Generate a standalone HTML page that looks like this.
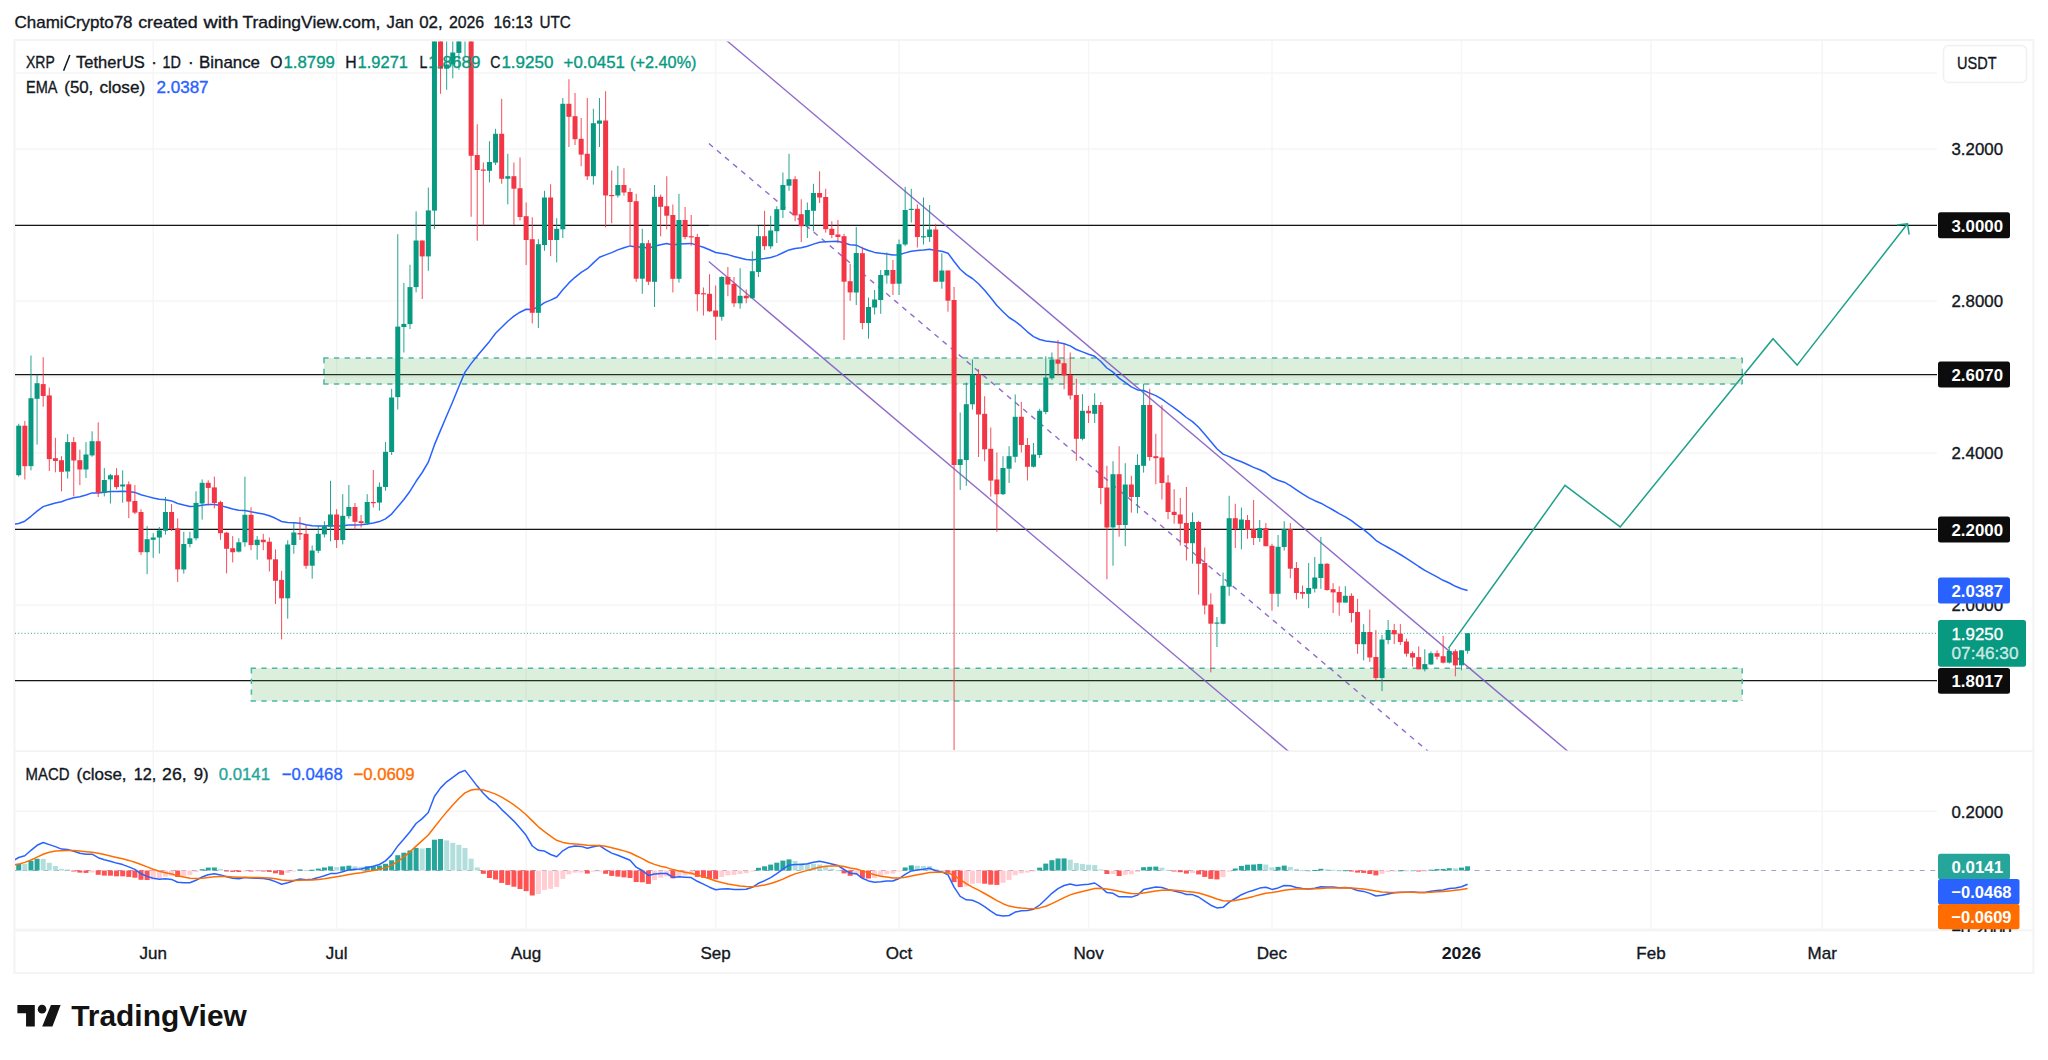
<!DOCTYPE html><html><head><meta charset="utf-8"><style>html,body{margin:0;padding:0;background:#fff;width:2048px;height:1060px;overflow:hidden}</style></head><body><svg width="2048" height="1060" viewBox="0 0 2048 1060" style="position:absolute;left:0;top:0">
<defs><clipPath id="mp"><rect x="15" y="41.6" width="1922" height="709"/></clipPath><clipPath id="ip"><rect x="15" y="752" width="1922" height="178"/></clipPath></defs>
<rect x="14.45" y="40.1" width="2018.95" height="932.9" fill="none" stroke="#f4f4f4" stroke-width="2.1"/>
<line x1="153.22369999999998" y1="41" x2="153.22369999999998" y2="930.5" stroke="#f6f6f7" stroke-width="1.5"/>
<line x1="336.6242" y1="41" x2="336.6242" y2="930.5" stroke="#f6f6f7" stroke-width="1.5"/>
<line x1="526.1380499999999" y1="41" x2="526.1380499999999" y2="930.5" stroke="#f6f6f7" stroke-width="1.5"/>
<line x1="715.6519" y1="41" x2="715.6519" y2="930.5" stroke="#f6f6f7" stroke-width="1.5"/>
<line x1="899.0523999999999" y1="41" x2="899.0523999999999" y2="930.5" stroke="#f6f6f7" stroke-width="1.5"/>
<line x1="1088.5662499999999" y1="41" x2="1088.5662499999999" y2="930.5" stroke="#f6f6f7" stroke-width="1.5"/>
<line x1="1271.96675" y1="41" x2="1271.96675" y2="930.5" stroke="#f6f6f7" stroke-width="1.5"/>
<line x1="1461.4805999999999" y1="41" x2="1461.4805999999999" y2="930.5" stroke="#f6f6f7" stroke-width="1.5"/>
<line x1="1650.99445" y1="41" x2="1650.99445" y2="930.5" stroke="#f6f6f7" stroke-width="1.5"/>
<line x1="1822.16825" y1="41" x2="1822.16825" y2="930.5" stroke="#f6f6f7" stroke-width="1.5"/>
<line x1="15" y1="73" x2="1937" y2="73" stroke="#f6f6f7" stroke-width="1.5"/>
<line x1="15" y1="149" x2="1937" y2="149" stroke="#f6f6f7" stroke-width="1.5"/>
<line x1="15" y1="225" x2="1937" y2="225" stroke="#f6f6f7" stroke-width="1.5"/>
<line x1="15" y1="301" x2="1937" y2="301" stroke="#f6f6f7" stroke-width="1.5"/>
<line x1="15" y1="377" x2="1937" y2="377" stroke="#f6f6f7" stroke-width="1.5"/>
<line x1="15" y1="453" x2="1937" y2="453" stroke="#f6f6f7" stroke-width="1.5"/>
<line x1="15" y1="529" x2="1937" y2="529" stroke="#f6f6f7" stroke-width="1.5"/>
<line x1="15" y1="605" x2="1937" y2="605" stroke="#f6f6f7" stroke-width="1.5"/>
<line x1="15" y1="681" x2="1937" y2="681" stroke="#f6f6f7" stroke-width="1.5"/>
<line x1="15" y1="811.3" x2="1937" y2="811.3" stroke="#f6f6f7" stroke-width="1.5"/>
<line x1="15" y1="929.3" x2="1937" y2="929.3" stroke="#f6f6f7" stroke-width="1.5"/>
<line x1="15" y1="751.2" x2="2033" y2="751.2" stroke="#f3f3f4" stroke-width="1.8"/>
<line x1="15" y1="930.5" x2="2033" y2="930.4" stroke="#f3f3f4" stroke-width="1.8"/>
<g clip-path="url(#mp)">
<line x1="15" y1="225.30" x2="1938" y2="225.30" stroke="#161616" stroke-width="1.25"/>
<line x1="15" y1="374.64" x2="1938" y2="374.64" stroke="#161616" stroke-width="1.25"/>
<line x1="15" y1="529.30" x2="1938" y2="529.30" stroke="#161616" stroke-width="1.25"/>
<line x1="15" y1="680.65" x2="1938" y2="680.65" stroke="#161616" stroke-width="1.25"/>
<line x1="709" y1="225.3" x2="757.4" y2="225.3" stroke="#fff" stroke-width="1.6" opacity="0.22"/>
<rect x="324.0" y="358.05" width="1418.2" height="26.05000000000001" fill="rgba(76,175,80,0.195)"/>
<line x1="323.3" y1="358.05" x2="1742.2" y2="358.05" stroke="#4db7a4" stroke-width="1.5" stroke-dasharray="5.25 5.41"/>
<line x1="323.3" y1="384.1" x2="1742.2" y2="384.1" stroke="#4db7a4" stroke-width="1.5" stroke-dasharray="5.25 5.41"/>
<line x1="324.0" y1="358.05" x2="324.0" y2="384.1" stroke="#4db7a4" stroke-width="1.5" stroke-dasharray="5.25 5.41"/>
<line x1="1742.2" y1="358.05" x2="1742.2" y2="384.1" stroke="#4db7a4" stroke-width="1.5" stroke-dasharray="5.25 5.41"/>
<rect x="251.4" y="668.2" width="1490.8" height="32.69999999999993" fill="rgba(76,175,80,0.195)"/>
<line x1="250.70000000000002" y1="668.2" x2="1742.2" y2="668.2" stroke="#4db7a4" stroke-width="1.5" stroke-dasharray="5.25 5.41"/>
<line x1="250.70000000000002" y1="700.9" x2="1742.2" y2="700.9" stroke="#4db7a4" stroke-width="1.5" stroke-dasharray="5.25 5.41"/>
<line x1="251.4" y1="668.2" x2="251.4" y2="700.9" stroke="#4db7a4" stroke-width="1.5" stroke-dasharray="5.25 5.41"/>
<line x1="1742.2" y1="668.2" x2="1742.2" y2="700.9" stroke="#4db7a4" stroke-width="1.5" stroke-dasharray="5.25 5.41"/>
<line x1="15" y1="633.3" x2="1938" y2="633.3" stroke="#089981" stroke-width="1" stroke-dasharray="1 2.2" opacity="0.85"/>
<line x1="708.75" y1="25.4" x2="1600" y2="778.5" stroke="#8159c4" stroke-width="1.4" opacity="0.88"/>
<line x1="708.75" y1="261.5" x2="1600" y2="1014.6" stroke="#8159c4" stroke-width="1.4" opacity="0.88"/>
<line x1="708.9" y1="143.5" x2="1600" y2="896.5" stroke="#8159c4" stroke-width="1.4" opacity="0.88" stroke-dasharray="5.3 5.25"/>
<polyline points="14,524.1 18.7,523.5 24.8,521.2 31.0,516.3 37.1,511.1 43.2,506.6 49.3,504.7 55.4,503.0 61.5,501.7 67.6,499.4 73.8,497.8 79.9,496.7 86.0,495.0 92.1,492.9 98.2,492.9 104.3,492.3 110.4,491.6 116.5,491.4 122.7,491.2 128.8,491.5 134.9,492.4 141.0,494.7 147.1,496.4 153.2,498.0 159.3,499.3 165.5,499.7 171.6,500.9 177.7,503.5 183.8,505.1 189.9,506.4 196.0,506.2 202.1,505.3 208.2,504.6 214.4,504.5 220.5,505.6 226.6,507.3 232.7,509.0 238.8,510.3 244.9,510.5 251.0,511.8 257.2,512.9 263.3,514.0 269.4,515.8 275.5,518.3 281.6,521.5 287.7,522.4 293.8,522.7 299.9,523.2 306.1,524.8 312.2,525.8 318.3,526.1 324.4,526.1 330.5,525.6 336.6,526.2 342.7,525.8 348.9,525.0 355.0,524.9 361.1,524.8 367.2,523.9 373.3,523.0 379.4,521.6 385.5,518.9 391.6,514.1 397.8,506.7 403.9,499.5 410.0,491.2 416.1,481.3 422.2,472.5 428.3,462.2 434.4,444.9 440.6,430.1 446.7,415.8 452.8,401.5 458.9,386.5 465.0,372.1 471.1,363.6 477.2,356.0 483.3,348.8 489.5,341.4 495.6,333.3 501.7,327.2 507.8,321.3 513.9,316.1 520.0,312.2 526.1,309.3 532.3,309.4 538.4,306.9 544.5,302.6 550.6,300.1 556.7,297.3 562.8,289.7 568.9,282.9 575.0,277.3 581.2,272.4 587.3,268.7 593.4,262.9 599.5,257.3 605.6,254.9 611.7,252.6 617.8,249.9 624.0,247.7 630.1,245.9 636.2,247.1 642.3,247.0 648.4,248.3 654.5,246.3 660.6,244.7 666.7,243.6 672.9,245.0 679.0,244.0 685.1,243.7 691.2,243.4 697.3,245.4 703.4,247.3 709.5,249.8 715.7,252.5 721.8,253.4 727.9,254.6 734.0,256.5 740.1,258.1 746.2,259.6 752.3,260.1 758.4,259.1 764.6,258.6 770.7,257.5 776.8,255.6 782.9,252.8 789.0,249.9 795.1,248.6 801.2,247.7 807.4,246.2 813.5,244.1 819.6,242.3 825.7,241.8 831.8,241.5 837.9,241.3 844.0,242.9 850.1,244.8 856.3,245.2 862.4,248.2 868.5,250.5 874.6,252.4 880.7,253.3 886.8,254.0 892.9,255.1 899.1,254.7 905.2,252.9 911.3,251.2 917.4,250.6 923.5,250.1 929.6,249.3 935.7,250.5 941.8,251.3 948.0,253.2 954.1,261.5 960.2,269.3 966.3,274.6 972.4,278.5 978.5,283.8 984.6,290.3 990.8,297.8 996.9,305.5 1003.0,311.8 1009.1,317.5 1015.2,321.4 1021.3,326.2 1027.4,331.8 1033.5,336.6 1039.7,339.5 1045.8,341.0 1051.9,341.7 1058.0,342.6 1064.1,343.8 1070.2,345.9 1076.3,349.5 1082.5,351.9 1088.6,354.3 1094.7,356.3 1100.8,361.5 1106.9,368.0 1113.0,372.1 1119.1,378.1 1125.2,382.3 1131.4,386.8 1137.5,389.9 1143.6,390.5 1149.7,393.1 1155.8,395.6 1161.9,399.1 1168.0,403.5 1174.2,407.9 1180.3,412.4 1186.4,417.5 1192.5,421.6 1198.6,427.2 1204.7,434.2 1210.8,441.6 1216.9,448.7 1223.1,454.1 1229.2,456.6 1235.3,459.5 1241.4,461.8 1247.5,464.5 1253.6,467.4 1259.7,469.8 1265.9,472.8 1272.0,477.5 1278.1,480.2 1284.2,482.2 1290.3,485.6 1296.4,489.8 1302.5,493.9 1308.6,497.6 1314.8,500.7 1320.9,503.2 1327.0,506.6 1333.1,510.0 1339.2,513.6 1345.3,516.8 1351.4,520.6 1357.6,525.4 1363.7,529.6 1369.8,534.6 1375.9,540.3 1382.0,544.2 1388.1,547.5 1394.2,550.9 1400.3,554.5 1406.5,558.4 1412.6,562.3 1418.7,566.5 1424.8,570.4 1430.9,573.6 1437.0,576.9 1443.1,580.3 1449.3,583.0 1455.4,586.3 1461.5,588.8 1467.6,590.5" fill="none" stroke="#2962ff" stroke-width="1.5" stroke-linejoin="round"/>
<rect x="18.23" y="423.7" width="1" height="52.9" fill="#089981" opacity="0.88"/>
<rect x="16.23" y="425.7" width="5" height="49.5" fill="#089981"/>
<rect x="24.34" y="420.9" width="1" height="58.6" fill="#f23645" opacity="0.88"/>
<rect x="22.34" y="425.7" width="5" height="40.5" fill="#f23645"/>
<rect x="30.46" y="355.5" width="1" height="114.9" fill="#089981" opacity="0.88"/>
<rect x="28.46" y="398.2" width="5" height="67.9" fill="#089981"/>
<rect x="36.57" y="374.7" width="1" height="69.9" fill="#089981" opacity="0.88"/>
<rect x="34.57" y="383.2" width="5" height="15.6" fill="#089981"/>
<rect x="42.68" y="357.2" width="1" height="49.5" fill="#f23645" opacity="0.88"/>
<rect x="40.68" y="384.1" width="5" height="11.9" fill="#f23645"/>
<rect x="48.80" y="387.5" width="1" height="83.5" fill="#f23645" opacity="0.88"/>
<rect x="46.8" y="395.4" width="5" height="63.7" fill="#f23645"/>
<rect x="54.91" y="437.8" width="1" height="34.5" fill="#f23645" opacity="0.88"/>
<rect x="52.91" y="458.2" width="5" height="2.8" fill="#f23645"/>
<rect x="61.02" y="456.2" width="1" height="35.1" fill="#f23645" opacity="0.88"/>
<rect x="59.02" y="460.2" width="5" height="11.6" fill="#f23645"/>
<rect x="67.14" y="434.2" width="1" height="44.4" fill="#089981" opacity="0.88"/>
<rect x="65.14" y="442.1" width="5" height="29.4" fill="#089981"/>
<rect x="73.25" y="437.0" width="1" height="59.4" fill="#f23645" opacity="0.88"/>
<rect x="71.25" y="442.1" width="5" height="18.4" fill="#f23645"/>
<rect x="79.36" y="449.7" width="1" height="35.4" fill="#f23645" opacity="0.88"/>
<rect x="77.36" y="460.2" width="5" height="9.3" fill="#f23645"/>
<rect x="85.48" y="442.1" width="1" height="35.9" fill="#089981" opacity="0.88"/>
<rect x="83.48" y="454.5" width="5" height="15.0" fill="#089981"/>
<rect x="91.59" y="431.3" width="1" height="25.5" fill="#089981" opacity="0.88"/>
<rect x="89.59" y="441.2" width="5" height="14.2" fill="#089981"/>
<rect x="97.70" y="422.3" width="1" height="74.7" fill="#f23645" opacity="0.88"/>
<rect x="95.7" y="441.2" width="5" height="51.5" fill="#f23645"/>
<rect x="103.82" y="468.1" width="1" height="28.3" fill="#089981" opacity="0.88"/>
<rect x="101.82" y="480.0" width="5" height="12.7" fill="#089981"/>
<rect x="109.93" y="473.8" width="1" height="29.7" fill="#089981" opacity="0.88"/>
<rect x="107.93" y="475.2" width="5" height="4.2" fill="#089981"/>
<rect x="116.04" y="468.1" width="1" height="21.2" fill="#f23645" opacity="0.88"/>
<rect x="114.04" y="475.2" width="5" height="11.9" fill="#f23645"/>
<rect x="122.16" y="470.4" width="1" height="32.3" fill="#089981" opacity="0.88"/>
<rect x="120.16" y="484.5" width="5" height="2.0" fill="#089981"/>
<rect x="128.27" y="481.4" width="1" height="36.8" fill="#f23645" opacity="0.88"/>
<rect x="126.27" y="484.3" width="5" height="17.3" fill="#f23645"/>
<rect x="134.38" y="485.1" width="1" height="28.9" fill="#f23645" opacity="0.88"/>
<rect x="132.38" y="501.0" width="5" height="11.6" fill="#f23645"/>
<rect x="140.50" y="509.2" width="1" height="45.9" fill="#f23645" opacity="0.88"/>
<rect x="138.5" y="512.0" width="5" height="40.2" fill="#f23645"/>
<rect x="146.61" y="526.1" width="1" height="48.1" fill="#089981" opacity="0.88"/>
<rect x="144.61" y="539.2" width="5" height="13.0" fill="#089981"/>
<rect x="152.72" y="533.2" width="1" height="24.6" fill="#089981" opacity="0.88"/>
<rect x="150.72" y="537.5" width="5" height="2.3" fill="#089981"/>
<rect x="158.84" y="527.0" width="1" height="26.6" fill="#089981" opacity="0.88"/>
<rect x="156.84" y="530.4" width="5" height="7.1" fill="#089981"/>
<rect x="164.95" y="497.0" width="1" height="37.6" fill="#089981" opacity="0.88"/>
<rect x="162.95" y="512.0" width="5" height="18.7" fill="#089981"/>
<rect x="171.06" y="504.1" width="1" height="26.9" fill="#f23645" opacity="0.88"/>
<rect x="169.06" y="512.0" width="5" height="17.0" fill="#f23645"/>
<rect x="177.18" y="518.5" width="1" height="63.4" fill="#f23645" opacity="0.88"/>
<rect x="175.18" y="528.4" width="5" height="41.0" fill="#f23645"/>
<rect x="183.29" y="531.8" width="1" height="41.9" fill="#089981" opacity="0.88"/>
<rect x="181.29" y="544.0" width="5" height="25.5" fill="#089981"/>
<rect x="189.40" y="531.8" width="1" height="15.6" fill="#089981" opacity="0.88"/>
<rect x="187.4" y="538.3" width="5" height="5.7" fill="#089981"/>
<rect x="195.52" y="491.3" width="1" height="49.0" fill="#089981" opacity="0.88"/>
<rect x="193.52" y="502.9" width="5" height="35.4" fill="#089981"/>
<rect x="201.63" y="479.4" width="1" height="40.2" fill="#089981" opacity="0.88"/>
<rect x="199.63" y="482.8" width="5" height="20.7" fill="#089981"/>
<rect x="207.74" y="480.3" width="1" height="25.2" fill="#f23645" opacity="0.88"/>
<rect x="205.74" y="482.8" width="5" height="5.1" fill="#f23645"/>
<rect x="213.86" y="476.6" width="1" height="31.7" fill="#f23645" opacity="0.88"/>
<rect x="211.86" y="487.4" width="5" height="15.6" fill="#f23645"/>
<rect x="219.97" y="500.7" width="1" height="39.1" fill="#f23645" opacity="0.88"/>
<rect x="217.97" y="502.1" width="5" height="31.1" fill="#f23645"/>
<rect x="226.08" y="531.8" width="1" height="41.6" fill="#f23645" opacity="0.88"/>
<rect x="224.08" y="532.7" width="5" height="16.1" fill="#f23645"/>
<rect x="232.20" y="536.1" width="1" height="26.3" fill="#f23645" opacity="0.88"/>
<rect x="230.2" y="548.2" width="5" height="4.0" fill="#f23645"/>
<rect x="238.31" y="538.3" width="1" height="14.2" fill="#089981" opacity="0.88"/>
<rect x="236.31" y="542.3" width="5" height="9.3" fill="#089981"/>
<rect x="244.42" y="476.6" width="1" height="70.2" fill="#089981" opacity="0.88"/>
<rect x="242.42" y="514.8" width="5" height="27.5" fill="#089981"/>
<rect x="250.54" y="507.2" width="1" height="43.0" fill="#f23645" opacity="0.88"/>
<rect x="248.54" y="514.8" width="5" height="30.3" fill="#f23645"/>
<rect x="256.65" y="536.1" width="1" height="23.5" fill="#089981" opacity="0.88"/>
<rect x="254.65" y="539.7" width="5" height="5.4" fill="#089981"/>
<rect x="262.76" y="533.8" width="1" height="16.4" fill="#f23645" opacity="0.88"/>
<rect x="260.76" y="539.7" width="5" height="2.5" fill="#f23645"/>
<rect x="268.88" y="537.5" width="1" height="34.0" fill="#f23645" opacity="0.88"/>
<rect x="266.88" y="541.7" width="5" height="17.8" fill="#f23645"/>
<rect x="274.99" y="549.4" width="1" height="54.6" fill="#f23645" opacity="0.88"/>
<rect x="272.99" y="559.3" width="5" height="21.5" fill="#f23645"/>
<rect x="281.10" y="570.9" width="1" height="68.5" fill="#f23645" opacity="0.88"/>
<rect x="279.1" y="579.9" width="5" height="18.4" fill="#f23645"/>
<rect x="287.22" y="540.3" width="1" height="78.4" fill="#089981" opacity="0.88"/>
<rect x="285.22" y="544.5" width="5" height="53.8" fill="#089981"/>
<rect x="293.33" y="522.5" width="1" height="31.2" fill="#089981" opacity="0.88"/>
<rect x="291.33" y="532.5" width="5" height="12.5" fill="#089981"/>
<rect x="299.44" y="517.0" width="1" height="23.0" fill="#f23645" opacity="0.88"/>
<rect x="297.44" y="533.0" width="5" height="1.5" fill="#f23645"/>
<rect x="305.56" y="524.5" width="1" height="44.2" fill="#f23645" opacity="0.88"/>
<rect x="303.56" y="533.8" width="5" height="32.0" fill="#f23645"/>
<rect x="311.67" y="545.5" width="1" height="33.2" fill="#089981" opacity="0.88"/>
<rect x="309.67" y="550.5" width="5" height="15.2" fill="#089981"/>
<rect x="317.78" y="526.2" width="1" height="26.8" fill="#089981" opacity="0.88"/>
<rect x="315.78" y="533.8" width="5" height="17.0" fill="#089981"/>
<rect x="323.90" y="521.2" width="1" height="16.2" fill="#089981" opacity="0.88"/>
<rect x="321.9" y="526.2" width="5" height="8.2" fill="#089981"/>
<rect x="330.01" y="480.8" width="1" height="60.5" fill="#089981" opacity="0.88"/>
<rect x="328.01" y="514.5" width="5" height="12.2" fill="#089981"/>
<rect x="336.12" y="509.2" width="1" height="38.8" fill="#f23645" opacity="0.88"/>
<rect x="334.12" y="514.5" width="5" height="25.5" fill="#f23645"/>
<rect x="342.24" y="494.2" width="1" height="50.2" fill="#089981" opacity="0.88"/>
<rect x="340.24" y="515.8" width="5" height="24.2" fill="#089981"/>
<rect x="348.35" y="485.0" width="1" height="33.8" fill="#089981" opacity="0.88"/>
<rect x="346.35" y="507.0" width="5" height="9.2" fill="#089981"/>
<rect x="354.46" y="503.0" width="1" height="26.5" fill="#f23645" opacity="0.88"/>
<rect x="352.46" y="507.0" width="5" height="14.8" fill="#f23645"/>
<rect x="360.58" y="515.0" width="1" height="12.5" fill="#f23645" opacity="0.88"/>
<rect x="358.58" y="521.2" width="5" height="1.8" fill="#f23645"/>
<rect x="366.69" y="494.2" width="1" height="30.8" fill="#089981" opacity="0.88"/>
<rect x="364.69" y="502.0" width="5" height="21.2" fill="#089981"/>
<rect x="372.80" y="470.0" width="1" height="37.5" fill="#f23645" opacity="0.88"/>
<rect x="370.8" y="502.0" width="5" height="1.2" fill="#f23645"/>
<rect x="378.92" y="482.5" width="1" height="28.2" fill="#089981" opacity="0.88"/>
<rect x="376.92" y="486.8" width="5" height="15.8" fill="#089981"/>
<rect x="385.03" y="442.0" width="1" height="48.8" fill="#089981" opacity="0.88"/>
<rect x="383.03" y="451.8" width="5" height="35.2" fill="#089981"/>
<rect x="391.14" y="388.8" width="1" height="66.2" fill="#089981" opacity="0.88"/>
<rect x="389.14" y="397.5" width="5" height="54.5" fill="#089981"/>
<rect x="397.26" y="234.2" width="1" height="175.3" fill="#089981" opacity="0.88"/>
<rect x="395.26" y="326.6" width="5" height="70.5" fill="#089981"/>
<rect x="403.37" y="283.0" width="1" height="69.5" fill="#089981" opacity="0.88"/>
<rect x="401.37" y="323.9" width="5" height="3.1" fill="#089981"/>
<rect x="409.48" y="264.7" width="1" height="64.3" fill="#089981" opacity="0.88"/>
<rect x="407.48" y="287.1" width="5" height="37.0" fill="#089981"/>
<rect x="415.60" y="211.4" width="1" height="80.9" fill="#089981" opacity="0.88"/>
<rect x="413.6" y="240.5" width="5" height="46.6" fill="#089981"/>
<rect x="421.71" y="240.5" width="1" height="58.5" fill="#f23645" opacity="0.88"/>
<rect x="419.71" y="240.5" width="5" height="15.9" fill="#f23645"/>
<rect x="427.82" y="187.5" width="1" height="83.3" fill="#089981" opacity="0.88"/>
<rect x="425.82" y="210.4" width="5" height="46.0" fill="#089981"/>
<rect x="433.94" y="20.0" width="1" height="209.0" fill="#089981" opacity="0.88"/>
<rect x="431.94" y="20.0" width="5" height="190.6" fill="#089981"/>
<rect x="440.05" y="20.0" width="1" height="73.8" fill="#f23645" opacity="0.88"/>
<rect x="438.05" y="20.0" width="5" height="48.7" fill="#f23645"/>
<rect x="446.16" y="20.0" width="1" height="69.8" fill="#089981" opacity="0.88"/>
<rect x="444.16" y="64.5" width="5" height="4.2" fill="#089981"/>
<rect x="452.28" y="20.0" width="1" height="58.3" fill="#089981" opacity="0.88"/>
<rect x="450.28" y="52.5" width="5" height="11.9" fill="#089981"/>
<rect x="458.39" y="20.0" width="1" height="49.7" fill="#089981" opacity="0.88"/>
<rect x="456.39" y="20.0" width="5" height="32.9" fill="#089981"/>
<rect x="464.50" y="20.0" width="1" height="36.0" fill="#089981" opacity="0.88"/>
<rect x="462.5" y="20.0" width="5" height="10.0" fill="#089981"/>
<rect x="470.62" y="20.0" width="1" height="196.8" fill="#f23645" opacity="0.88"/>
<rect x="468.62" y="20.0" width="5" height="135.8" fill="#f23645"/>
<rect x="476.73" y="124.2" width="1" height="116.5" fill="#f23645" opacity="0.88"/>
<rect x="474.73" y="155.0" width="5" height="15.0" fill="#f23645"/>
<rect x="482.84" y="162.5" width="1" height="63.0" fill="#f23645" opacity="0.88"/>
<rect x="480.84" y="169.5" width="5" height="1.2" fill="#f23645"/>
<rect x="488.96" y="141.2" width="1" height="41.2" fill="#089981" opacity="0.88"/>
<rect x="486.96" y="162.0" width="5" height="8.8" fill="#089981"/>
<rect x="495.07" y="128.8" width="1" height="36.2" fill="#089981" opacity="0.88"/>
<rect x="493.07" y="133.8" width="5" height="28.8" fill="#089981"/>
<rect x="501.18" y="98.8" width="1" height="85.0" fill="#f23645" opacity="0.88"/>
<rect x="499.18" y="133.8" width="5" height="45.0" fill="#f23645"/>
<rect x="507.30" y="153.8" width="1" height="50.5" fill="#089981" opacity="0.88"/>
<rect x="505.3" y="176.2" width="5" height="2.5" fill="#089981"/>
<rect x="513.41" y="162.5" width="1" height="62.5" fill="#f23645" opacity="0.88"/>
<rect x="511.41" y="176.2" width="5" height="12.5" fill="#f23645"/>
<rect x="519.52" y="157.5" width="1" height="63.0" fill="#f23645" opacity="0.88"/>
<rect x="517.52" y="188.2" width="5" height="28.8" fill="#f23645"/>
<rect x="525.64" y="202.5" width="1" height="62.5" fill="#f23645" opacity="0.88"/>
<rect x="523.64" y="216.2" width="5" height="23.8" fill="#f23645"/>
<rect x="531.75" y="217.2" width="1" height="106.2" fill="#f23645" opacity="0.88"/>
<rect x="529.75" y="239.2" width="5" height="73.6" fill="#f23645"/>
<rect x="537.86" y="239.2" width="1" height="88.8" fill="#089981" opacity="0.88"/>
<rect x="535.86" y="244.2" width="5" height="68.6" fill="#089981"/>
<rect x="543.98" y="190.8" width="1" height="60.0" fill="#089981" opacity="0.88"/>
<rect x="541.98" y="197.5" width="5" height="47.5" fill="#089981"/>
<rect x="550.09" y="184.2" width="1" height="72.0" fill="#f23645" opacity="0.88"/>
<rect x="548.09" y="197.5" width="5" height="42.5" fill="#f23645"/>
<rect x="556.20" y="218.2" width="1" height="44.2" fill="#089981" opacity="0.88"/>
<rect x="554.2" y="228.8" width="5" height="11.2" fill="#089981"/>
<rect x="562.32" y="98.0" width="1" height="140.0" fill="#089981" opacity="0.88"/>
<rect x="560.32" y="103.8" width="5" height="125.5" fill="#089981"/>
<rect x="568.43" y="79.2" width="1" height="67.8" fill="#f23645" opacity="0.88"/>
<rect x="566.43" y="103.8" width="5" height="13.0" fill="#f23645"/>
<rect x="574.54" y="93.0" width="1" height="52.0" fill="#f23645" opacity="0.88"/>
<rect x="572.54" y="116.2" width="5" height="23.0" fill="#f23645"/>
<rect x="580.66" y="118.0" width="1" height="48.2" fill="#f23645" opacity="0.88"/>
<rect x="578.66" y="138.8" width="5" height="15.8" fill="#f23645"/>
<rect x="586.77" y="98.0" width="1" height="82.0" fill="#f23645" opacity="0.88"/>
<rect x="584.77" y="153.8" width="5" height="22.5" fill="#f23645"/>
<rect x="592.88" y="108.8" width="1" height="75.8" fill="#089981" opacity="0.88"/>
<rect x="590.88" y="123.2" width="5" height="53.0" fill="#089981"/>
<rect x="599.00" y="98.0" width="1" height="49.0" fill="#089981" opacity="0.88"/>
<rect x="597.0" y="120.5" width="5" height="3.2" fill="#089981"/>
<rect x="605.11" y="91.2" width="1" height="136.2" fill="#f23645" opacity="0.88"/>
<rect x="603.11" y="120.5" width="5" height="75.0" fill="#f23645"/>
<rect x="611.22" y="170.5" width="1" height="52.8" fill="#f23645" opacity="0.88"/>
<rect x="609.22" y="195.0" width="5" height="1.2" fill="#f23645"/>
<rect x="617.34" y="165.8" width="1" height="31.8" fill="#089981" opacity="0.88"/>
<rect x="615.34" y="185.0" width="5" height="10.5" fill="#089981"/>
<rect x="623.45" y="168.2" width="1" height="27.5" fill="#f23645" opacity="0.88"/>
<rect x="621.45" y="185.0" width="5" height="7.5" fill="#f23645"/>
<rect x="629.56" y="188.0" width="1" height="57.0" fill="#f23645" opacity="0.88"/>
<rect x="627.56" y="192.0" width="5" height="10.0" fill="#f23645"/>
<rect x="635.68" y="193.8" width="1" height="88.0" fill="#f23645" opacity="0.88"/>
<rect x="633.68" y="201.2" width="5" height="77.5" fill="#f23645"/>
<rect x="641.79" y="228.8" width="1" height="65.0" fill="#089981" opacity="0.88"/>
<rect x="639.79" y="243.2" width="5" height="35.5" fill="#089981"/>
<rect x="647.91" y="240.0" width="1" height="45.0" fill="#f23645" opacity="0.88"/>
<rect x="645.91" y="243.2" width="5" height="38.5" fill="#f23645"/>
<rect x="654.02" y="185.0" width="1" height="122.0" fill="#089981" opacity="0.88"/>
<rect x="652.02" y="196.8" width="5" height="85.0" fill="#089981"/>
<rect x="660.13" y="194.5" width="1" height="41.8" fill="#f23645" opacity="0.88"/>
<rect x="658.13" y="196.8" width="5" height="10.0" fill="#f23645"/>
<rect x="666.25" y="176.2" width="1" height="53.2" fill="#f23645" opacity="0.88"/>
<rect x="664.25" y="206.2" width="5" height="9.5" fill="#f23645"/>
<rect x="672.36" y="204.5" width="1" height="88.0" fill="#f23645" opacity="0.88"/>
<rect x="670.36" y="215.0" width="5" height="63.8" fill="#f23645"/>
<rect x="678.47" y="193.8" width="1" height="88.8" fill="#089981" opacity="0.88"/>
<rect x="676.47" y="220.0" width="5" height="58.8" fill="#089981"/>
<rect x="684.59" y="207.0" width="1" height="32.2" fill="#f23645" opacity="0.88"/>
<rect x="682.59" y="220.0" width="5" height="17.0" fill="#f23645"/>
<rect x="690.70" y="215.0" width="1" height="30.8" fill="#f23645" opacity="0.88"/>
<rect x="688.7" y="236.2" width="5" height="1.2" fill="#f23645"/>
<rect x="696.81" y="233.8" width="1" height="77.5" fill="#f23645" opacity="0.88"/>
<rect x="694.81" y="237.0" width="5" height="57.2" fill="#f23645"/>
<rect x="702.93" y="287.5" width="1" height="28.0" fill="#f23645" opacity="0.88"/>
<rect x="700.93" y="293.2" width="5" height="1.2" fill="#f23645"/>
<rect x="709.04" y="274.2" width="1" height="37.8" fill="#f23645" opacity="0.88"/>
<rect x="707.04" y="293.8" width="5" height="17.5" fill="#f23645"/>
<rect x="715.15" y="285.5" width="1" height="54.5" fill="#f23645" opacity="0.88"/>
<rect x="713.15" y="310.5" width="5" height="6.2" fill="#f23645"/>
<rect x="721.27" y="276.2" width="1" height="44.5" fill="#089981" opacity="0.88"/>
<rect x="719.27" y="277.0" width="5" height="39.8" fill="#089981"/>
<rect x="727.38" y="267.0" width="1" height="29.2" fill="#f23645" opacity="0.88"/>
<rect x="725.38" y="277.0" width="5" height="7.5" fill="#f23645"/>
<rect x="733.49" y="277.0" width="1" height="30.0" fill="#f23645" opacity="0.88"/>
<rect x="731.49" y="283.8" width="5" height="19.5" fill="#f23645"/>
<rect x="739.61" y="268.2" width="1" height="40.5" fill="#089981" opacity="0.88"/>
<rect x="737.61" y="295.8" width="5" height="7.5" fill="#089981"/>
<rect x="745.72" y="289.5" width="1" height="13.8" fill="#f23645" opacity="0.88"/>
<rect x="743.72" y="295.8" width="5" height="2.5" fill="#f23645"/>
<rect x="751.83" y="251.2" width="1" height="47.5" fill="#089981" opacity="0.88"/>
<rect x="749.83" y="271.2" width="5" height="27.0" fill="#089981"/>
<rect x="757.95" y="225.8" width="1" height="51.2" fill="#089981" opacity="0.88"/>
<rect x="755.95" y="236.2" width="5" height="35.8" fill="#089981"/>
<rect x="764.06" y="210.8" width="1" height="39.2" fill="#f23645" opacity="0.88"/>
<rect x="762.06" y="236.2" width="5" height="10.0" fill="#f23645"/>
<rect x="770.17" y="215.8" width="1" height="33.0" fill="#089981" opacity="0.88"/>
<rect x="768.17" y="230.5" width="5" height="15.8" fill="#089981"/>
<rect x="776.29" y="206.2" width="1" height="36.8" fill="#089981" opacity="0.88"/>
<rect x="774.29" y="209.2" width="5" height="22.0" fill="#089981"/>
<rect x="782.40" y="172.5" width="1" height="45.5" fill="#089981" opacity="0.88"/>
<rect x="780.4" y="185.0" width="5" height="25.0" fill="#089981"/>
<rect x="788.51" y="153.8" width="1" height="37.0" fill="#089981" opacity="0.88"/>
<rect x="786.51" y="179.2" width="5" height="6.5" fill="#089981"/>
<rect x="794.63" y="176.2" width="1" height="45.0" fill="#f23645" opacity="0.88"/>
<rect x="792.63" y="179.2" width="5" height="36.2" fill="#f23645"/>
<rect x="800.74" y="199.2" width="1" height="42.8" fill="#f23645" opacity="0.88"/>
<rect x="798.74" y="214.2" width="5" height="12.0" fill="#f23645"/>
<rect x="806.85" y="202.5" width="1" height="35.5" fill="#089981" opacity="0.88"/>
<rect x="804.85" y="210.0" width="5" height="16.2" fill="#089981"/>
<rect x="812.97" y="183.8" width="1" height="47.5" fill="#089981" opacity="0.88"/>
<rect x="810.97" y="193.0" width="5" height="17.8" fill="#089981"/>
<rect x="819.08" y="171.2" width="1" height="31.8" fill="#f23645" opacity="0.88"/>
<rect x="817.08" y="193.0" width="5" height="4.5" fill="#f23645"/>
<rect x="825.19" y="188.8" width="1" height="43.8" fill="#f23645" opacity="0.88"/>
<rect x="823.19" y="197.0" width="5" height="32.2" fill="#f23645"/>
<rect x="831.31" y="221.2" width="1" height="17.0" fill="#f23645" opacity="0.88"/>
<rect x="829.31" y="228.8" width="5" height="6.2" fill="#f23645"/>
<rect x="837.42" y="220.0" width="1" height="23.2" fill="#f23645" opacity="0.88"/>
<rect x="835.42" y="234.5" width="5" height="2.5" fill="#f23645"/>
<rect x="843.53" y="233.8" width="1" height="106.2" fill="#f23645" opacity="0.88"/>
<rect x="841.53" y="236.2" width="5" height="45.5" fill="#f23645"/>
<rect x="849.65" y="263.8" width="1" height="37.0" fill="#f23645" opacity="0.88"/>
<rect x="847.65" y="281.2" width="5" height="11.2" fill="#f23645"/>
<rect x="855.76" y="227.0" width="1" height="78.0" fill="#089981" opacity="0.88"/>
<rect x="853.76" y="253.0" width="5" height="39.5" fill="#089981"/>
<rect x="861.87" y="246.8" width="1" height="82.5" fill="#f23645" opacity="0.88"/>
<rect x="859.87" y="253.2" width="5" height="69.8" fill="#f23645"/>
<rect x="867.99" y="297.5" width="1" height="41.2" fill="#089981" opacity="0.88"/>
<rect x="865.99" y="307.0" width="5" height="16.0" fill="#089981"/>
<rect x="874.10" y="290.0" width="1" height="24.5" fill="#089981" opacity="0.88"/>
<rect x="872.1" y="299.5" width="5" height="8.0" fill="#089981"/>
<rect x="880.21" y="270.0" width="1" height="43.8" fill="#089981" opacity="0.88"/>
<rect x="878.21" y="275.0" width="5" height="25.0" fill="#089981"/>
<rect x="886.33" y="252.5" width="1" height="31.2" fill="#089981" opacity="0.88"/>
<rect x="884.33" y="270.0" width="5" height="5.5" fill="#089981"/>
<rect x="892.44" y="260.0" width="1" height="35.0" fill="#f23645" opacity="0.88"/>
<rect x="890.44" y="270.0" width="5" height="13.8" fill="#f23645"/>
<rect x="898.55" y="239.5" width="1" height="55.5" fill="#089981" opacity="0.88"/>
<rect x="896.55" y="244.2" width="5" height="39.5" fill="#089981"/>
<rect x="904.67" y="187.0" width="1" height="59.2" fill="#089981" opacity="0.88"/>
<rect x="902.67" y="210.0" width="5" height="34.5" fill="#089981"/>
<rect x="910.78" y="188.8" width="1" height="33.8" fill="#089981" opacity="0.88"/>
<rect x="908.78" y="208.8" width="5" height="1.2" fill="#089981"/>
<rect x="916.89" y="204.5" width="1" height="43.0" fill="#f23645" opacity="0.88"/>
<rect x="914.89" y="208.8" width="5" height="28.2" fill="#f23645"/>
<rect x="923.01" y="197.5" width="1" height="47.0" fill="#089981" opacity="0.88"/>
<rect x="921.01" y="236.2" width="5" height="1.2" fill="#089981"/>
<rect x="929.12" y="205.0" width="1" height="37.0" fill="#089981" opacity="0.88"/>
<rect x="927.12" y="229.5" width="5" height="7.5" fill="#089981"/>
<rect x="935.23" y="223.8" width="1" height="58.0" fill="#f23645" opacity="0.88"/>
<rect x="933.23" y="229.5" width="5" height="52.2" fill="#f23645"/>
<rect x="941.35" y="253.2" width="1" height="35.5" fill="#089981" opacity="0.88"/>
<rect x="939.35" y="270.5" width="5" height="11.2" fill="#089981"/>
<rect x="947.46" y="270.5" width="1" height="41.2" fill="#f23645" opacity="0.88"/>
<rect x="945.46" y="270.5" width="5" height="30.2" fill="#f23645"/>
<rect x="953.57" y="287.0" width="1" height="463.0" fill="#f23645" opacity="0.88"/>
<rect x="951.57" y="300.0" width="5" height="165.0" fill="#f23645"/>
<rect x="959.69" y="412.5" width="1" height="77.5" fill="#089981" opacity="0.88"/>
<rect x="957.69" y="459.2" width="5" height="5.8" fill="#089981"/>
<rect x="965.80" y="382.5" width="1" height="103.2" fill="#089981" opacity="0.88"/>
<rect x="963.8" y="404.2" width="5" height="55.8" fill="#089981"/>
<rect x="971.91" y="359.5" width="1" height="50.0" fill="#089981" opacity="0.88"/>
<rect x="969.91" y="374.5" width="5" height="29.8" fill="#089981"/>
<rect x="978.03" y="369.2" width="1" height="87.8" fill="#f23645" opacity="0.88"/>
<rect x="976.03" y="374.5" width="5" height="40.0" fill="#f23645"/>
<rect x="984.14" y="396.2" width="1" height="65.0" fill="#f23645" opacity="0.88"/>
<rect x="982.14" y="413.8" width="5" height="35.5" fill="#f23645"/>
<rect x="990.25" y="427.5" width="1" height="69.2" fill="#f23645" opacity="0.88"/>
<rect x="988.25" y="448.8" width="5" height="31.8" fill="#f23645"/>
<rect x="996.37" y="452.5" width="1" height="79.2" fill="#f23645" opacity="0.88"/>
<rect x="994.37" y="479.5" width="5" height="14.8" fill="#f23645"/>
<rect x="1002.48" y="456.2" width="1" height="38.8" fill="#089981" opacity="0.88"/>
<rect x="1000.48" y="468.0" width="5" height="26.2" fill="#089981"/>
<rect x="1008.59" y="446.2" width="1" height="36.8" fill="#089981" opacity="0.88"/>
<rect x="1006.59" y="456.2" width="5" height="12.5" fill="#089981"/>
<rect x="1014.71" y="394.5" width="1" height="68.0" fill="#089981" opacity="0.88"/>
<rect x="1012.71" y="416.8" width="5" height="40.0" fill="#089981"/>
<rect x="1020.82" y="402.0" width="1" height="50.5" fill="#f23645" opacity="0.88"/>
<rect x="1018.82" y="416.8" width="5" height="28.2" fill="#f23645"/>
<rect x="1026.93" y="438.0" width="1" height="42.5" fill="#f23645" opacity="0.88"/>
<rect x="1024.93" y="445.0" width="5" height="21.8" fill="#f23645"/>
<rect x="1033.05" y="443.0" width="1" height="24.5" fill="#089981" opacity="0.88"/>
<rect x="1031.05" y="454.5" width="5" height="12.2" fill="#089981"/>
<rect x="1039.16" y="408.8" width="1" height="49.2" fill="#089981" opacity="0.88"/>
<rect x="1037.16" y="410.8" width="5" height="44.2" fill="#089981"/>
<rect x="1045.27" y="356.2" width="1" height="58.0" fill="#089981" opacity="0.88"/>
<rect x="1043.27" y="377.5" width="5" height="34.5" fill="#089981"/>
<rect x="1051.39" y="352.5" width="1" height="27.5" fill="#089981" opacity="0.88"/>
<rect x="1049.39" y="359.5" width="5" height="18.8" fill="#089981"/>
<rect x="1057.50" y="340.0" width="1" height="35.5" fill="#f23645" opacity="0.88"/>
<rect x="1055.5" y="359.5" width="5" height="4.2" fill="#f23645"/>
<rect x="1063.61" y="343.8" width="1" height="45.5" fill="#f23645" opacity="0.88"/>
<rect x="1061.61" y="363.2" width="5" height="12.2" fill="#f23645"/>
<rect x="1069.73" y="352.5" width="1" height="47.0" fill="#f23645" opacity="0.88"/>
<rect x="1067.73" y="375.0" width="5" height="20.5" fill="#f23645"/>
<rect x="1075.84" y="378.8" width="1" height="82.0" fill="#f23645" opacity="0.88"/>
<rect x="1073.84" y="395.0" width="5" height="43.8" fill="#f23645"/>
<rect x="1081.95" y="394.2" width="1" height="46.2" fill="#089981" opacity="0.88"/>
<rect x="1079.95" y="410.8" width="5" height="28.0" fill="#089981"/>
<rect x="1088.07" y="405.8" width="1" height="17.2" fill="#f23645" opacity="0.88"/>
<rect x="1086.07" y="410.8" width="5" height="2.5" fill="#f23645"/>
<rect x="1094.18" y="393.2" width="1" height="29.8" fill="#089981" opacity="0.88"/>
<rect x="1092.18" y="405.0" width="5" height="8.8" fill="#089981"/>
<rect x="1100.29" y="402.0" width="1" height="102.2" fill="#f23645" opacity="0.88"/>
<rect x="1098.29" y="405.0" width="5" height="83.0" fill="#f23645"/>
<rect x="1106.41" y="465.8" width="1" height="113.5" fill="#f23645" opacity="0.88"/>
<rect x="1104.41" y="487.5" width="5" height="40.0" fill="#f23645"/>
<rect x="1112.52" y="461.2" width="1" height="104.5" fill="#089981" opacity="0.88"/>
<rect x="1110.52" y="474.2" width="5" height="53.2" fill="#089981"/>
<rect x="1118.63" y="446.2" width="1" height="90.5" fill="#f23645" opacity="0.88"/>
<rect x="1116.63" y="474.2" width="5" height="50.8" fill="#f23645"/>
<rect x="1124.75" y="463.2" width="1" height="83.0" fill="#089981" opacity="0.88"/>
<rect x="1122.75" y="484.5" width="5" height="40.5" fill="#089981"/>
<rect x="1130.86" y="475.8" width="1" height="36.8" fill="#f23645" opacity="0.88"/>
<rect x="1128.86" y="484.5" width="5" height="12.5" fill="#f23645"/>
<rect x="1136.97" y="454.2" width="1" height="59.0" fill="#089981" opacity="0.88"/>
<rect x="1134.97" y="465.0" width="5" height="32.0" fill="#089981"/>
<rect x="1143.09" y="383.8" width="1" height="88.8" fill="#089981" opacity="0.88"/>
<rect x="1141.09" y="405.0" width="5" height="60.8" fill="#089981"/>
<rect x="1149.20" y="388.8" width="1" height="72.0" fill="#f23645" opacity="0.88"/>
<rect x="1147.2" y="405.0" width="5" height="52.0" fill="#f23645"/>
<rect x="1155.31" y="433.8" width="1" height="50.5" fill="#f23645" opacity="0.88"/>
<rect x="1153.31" y="456.2" width="5" height="2.0" fill="#f23645"/>
<rect x="1161.43" y="405.0" width="1" height="94.5" fill="#f23645" opacity="0.88"/>
<rect x="1159.43" y="457.5" width="5" height="25.5" fill="#f23645"/>
<rect x="1167.54" y="475.0" width="1" height="44.2" fill="#f23645" opacity="0.88"/>
<rect x="1165.54" y="482.5" width="5" height="29.5" fill="#f23645"/>
<rect x="1173.65" y="489.2" width="1" height="34.5" fill="#f23645" opacity="0.88"/>
<rect x="1171.65" y="511.8" width="5" height="3.2" fill="#f23645"/>
<rect x="1179.77" y="498.0" width="1" height="47.5" fill="#f23645" opacity="0.88"/>
<rect x="1177.77" y="514.5" width="5" height="9.2" fill="#f23645"/>
<rect x="1185.88" y="487.0" width="1" height="73.5" fill="#f23645" opacity="0.88"/>
<rect x="1183.88" y="523.0" width="5" height="20.2" fill="#f23645"/>
<rect x="1191.99" y="512.5" width="1" height="51.2" fill="#089981" opacity="0.88"/>
<rect x="1189.99" y="522.0" width="5" height="21.2" fill="#089981"/>
<rect x="1198.11" y="520.8" width="1" height="73.8" fill="#f23645" opacity="0.88"/>
<rect x="1196.11" y="522.0" width="5" height="41.8" fill="#f23645"/>
<rect x="1204.22" y="547.5" width="1" height="66.8" fill="#f23645" opacity="0.88"/>
<rect x="1202.22" y="563.0" width="5" height="42.5" fill="#f23645"/>
<rect x="1210.33" y="593.2" width="1" height="79.2" fill="#f23645" opacity="0.88"/>
<rect x="1208.33" y="604.5" width="5" height="19.2" fill="#f23645"/>
<rect x="1216.45" y="617.0" width="1" height="30.0" fill="#089981" opacity="0.88"/>
<rect x="1214.45" y="622.5" width="5" height="1.2" fill="#089981"/>
<rect x="1222.56" y="572.5" width="1" height="51.8" fill="#089981" opacity="0.88"/>
<rect x="1220.56" y="585.8" width="5" height="38.0" fill="#089981"/>
<rect x="1228.67" y="495.8" width="1" height="100.0" fill="#089981" opacity="0.88"/>
<rect x="1226.67" y="518.2" width="5" height="68.5" fill="#089981"/>
<rect x="1234.79" y="503.8" width="1" height="44.2" fill="#f23645" opacity="0.88"/>
<rect x="1232.79" y="518.2" width="5" height="11.0" fill="#f23645"/>
<rect x="1240.90" y="507.5" width="1" height="41.8" fill="#089981" opacity="0.88"/>
<rect x="1238.9" y="519.5" width="5" height="9.8" fill="#089981"/>
<rect x="1247.01" y="515.0" width="1" height="23.8" fill="#f23645" opacity="0.88"/>
<rect x="1245.01" y="520.0" width="5" height="10.0" fill="#f23645"/>
<rect x="1253.13" y="500.0" width="1" height="45.0" fill="#f23645" opacity="0.88"/>
<rect x="1251.13" y="529.2" width="5" height="8.8" fill="#f23645"/>
<rect x="1259.24" y="520.0" width="1" height="21.8" fill="#089981" opacity="0.88"/>
<rect x="1257.24" y="528.0" width="5" height="10.0" fill="#089981"/>
<rect x="1265.35" y="523.0" width="1" height="23.2" fill="#f23645" opacity="0.88"/>
<rect x="1263.35" y="528.0" width="5" height="18.2" fill="#f23645"/>
<rect x="1271.47" y="543.8" width="1" height="66.8" fill="#f23645" opacity="0.88"/>
<rect x="1269.47" y="545.8" width="5" height="48.0" fill="#f23645"/>
<rect x="1277.58" y="535.0" width="1" height="71.8" fill="#089981" opacity="0.88"/>
<rect x="1275.58" y="546.8" width="5" height="47.0" fill="#089981"/>
<rect x="1283.69" y="521.2" width="1" height="29.5" fill="#089981" opacity="0.88"/>
<rect x="1281.69" y="529.2" width="5" height="17.8" fill="#089981"/>
<rect x="1289.81" y="523.2" width="1" height="55.0" fill="#f23645" opacity="0.88"/>
<rect x="1287.81" y="529.2" width="5" height="39.5" fill="#f23645"/>
<rect x="1295.92" y="562.0" width="1" height="37.5" fill="#f23645" opacity="0.88"/>
<rect x="1293.92" y="568.0" width="5" height="25.0" fill="#f23645"/>
<rect x="1302.03" y="585.5" width="1" height="13.2" fill="#f23645" opacity="0.88"/>
<rect x="1300.03" y="592.0" width="5" height="1.8" fill="#f23645"/>
<rect x="1308.15" y="563.0" width="1" height="45.2" fill="#089981" opacity="0.88"/>
<rect x="1306.15" y="588.0" width="5" height="5.8" fill="#089981"/>
<rect x="1314.26" y="557.0" width="1" height="35.5" fill="#089981" opacity="0.88"/>
<rect x="1312.26" y="577.5" width="5" height="11.2" fill="#089981"/>
<rect x="1320.37" y="537.0" width="1" height="51.8" fill="#089981" opacity="0.88"/>
<rect x="1318.37" y="563.8" width="5" height="14.2" fill="#089981"/>
<rect x="1326.49" y="563.0" width="1" height="27.8" fill="#f23645" opacity="0.88"/>
<rect x="1324.49" y="563.8" width="5" height="26.2" fill="#f23645"/>
<rect x="1332.60" y="583.2" width="1" height="29.8" fill="#f23645" opacity="0.88"/>
<rect x="1330.6" y="589.2" width="5" height="3.2" fill="#f23645"/>
<rect x="1338.71" y="586.2" width="1" height="29.5" fill="#f23645" opacity="0.88"/>
<rect x="1336.71" y="592.0" width="5" height="10.5" fill="#f23645"/>
<rect x="1344.83" y="586.2" width="1" height="16.2" fill="#089981" opacity="0.88"/>
<rect x="1342.83" y="595.8" width="5" height="6.8" fill="#089981"/>
<rect x="1350.94" y="593.2" width="1" height="29.2" fill="#f23645" opacity="0.88"/>
<rect x="1348.94" y="595.8" width="5" height="17.2" fill="#f23645"/>
<rect x="1357.05" y="598.8" width="1" height="55.0" fill="#f23645" opacity="0.88"/>
<rect x="1355.05" y="612.0" width="5" height="32.2" fill="#f23645"/>
<rect x="1363.17" y="624.2" width="1" height="36.2" fill="#089981" opacity="0.88"/>
<rect x="1361.17" y="632.0" width="5" height="12.2" fill="#089981"/>
<rect x="1369.28" y="609.5" width="1" height="52.5" fill="#f23645" opacity="0.88"/>
<rect x="1367.28" y="632.0" width="5" height="25.5" fill="#f23645"/>
<rect x="1375.39" y="630.0" width="1" height="50.0" fill="#f23645" opacity="0.88"/>
<rect x="1373.39" y="657.0" width="5" height="21.0" fill="#f23645"/>
<rect x="1381.51" y="635.0" width="1" height="56.2" fill="#089981" opacity="0.88"/>
<rect x="1379.51" y="639.5" width="5" height="38.5" fill="#089981"/>
<rect x="1387.62" y="620.0" width="1" height="24.2" fill="#089981" opacity="0.88"/>
<rect x="1385.62" y="630.0" width="5" height="10.0" fill="#089981"/>
<rect x="1393.73" y="623.9" width="1" height="20.2" fill="#f23645" opacity="0.88"/>
<rect x="1391.73" y="630.1" width="5" height="4.2" fill="#f23645"/>
<rect x="1399.85" y="624.1" width="1" height="20.8" fill="#f23645" opacity="0.88"/>
<rect x="1397.85" y="633.7" width="5" height="8.3" fill="#f23645"/>
<rect x="1405.96" y="638.6" width="1" height="18.0" fill="#f23645" opacity="0.88"/>
<rect x="1403.96" y="641.5" width="5" height="12.2" fill="#f23645"/>
<rect x="1412.07" y="651.2" width="1" height="15.3" fill="#f23645" opacity="0.88"/>
<rect x="1410.07" y="653.1" width="5" height="4.5" fill="#f23645"/>
<rect x="1418.19" y="646.4" width="1" height="22.9" fill="#f23645" opacity="0.88"/>
<rect x="1416.19" y="657.1" width="5" height="12.2" fill="#f23645"/>
<rect x="1424.30" y="649.3" width="1" height="22.1" fill="#089981" opacity="0.88"/>
<rect x="1422.3" y="664.1" width="5" height="5.2" fill="#089981"/>
<rect x="1430.41" y="651.4" width="1" height="13.2" fill="#089981" opacity="0.88"/>
<rect x="1428.41" y="653.2" width="5" height="11.3" fill="#089981"/>
<rect x="1436.53" y="650.3" width="1" height="9.3" fill="#f23645" opacity="0.88"/>
<rect x="1434.53" y="653.2" width="5" height="3.5" fill="#f23645"/>
<rect x="1442.64" y="635.8" width="1" height="27.7" fill="#f23645" opacity="0.88"/>
<rect x="1440.64" y="656.2" width="5" height="6.5" fill="#f23645"/>
<rect x="1448.75" y="647.9" width="1" height="15.6" fill="#089981" opacity="0.88"/>
<rect x="1446.75" y="650.9" width="5" height="11.7" fill="#089981"/>
<rect x="1454.87" y="649.3" width="1" height="27.0" fill="#f23645" opacity="0.88"/>
<rect x="1452.87" y="651.2" width="5" height="14.2" fill="#f23645"/>
<rect x="1460.98" y="650.3" width="1" height="20.0" fill="#089981" opacity="0.88"/>
<rect x="1458.98" y="650.3" width="5" height="15.0" fill="#089981"/>
<rect x="1467.09" y="633.2" width="1" height="20.5" fill="#089981" opacity="0.88"/>
<rect x="1465.09" y="633.2" width="5" height="17.6" fill="#089981"/>
<polyline points="1448.5,648.1 1565,485.4 1620.2,526.9 1773,338.7 1797.1,365.1 1907.5,223.8" fill="none" stroke="#1fa18b" stroke-width="1.5" stroke-linejoin="miter"/>
<polyline points="1897,225.1 1907.5,223.8 1909.2,234.7" fill="none" stroke="#1fa18b" stroke-width="1.5"/>
</g>
<g clip-path="url(#ip)">
<line x1="11.8" y1="870.5" x2="1938" y2="870.5" stroke="#a5a1c6" stroke-width="1" stroke-dasharray="4.8 5.8"/>
<rect x="16.23" y="863.9" width="5" height="6.6" fill="#26a69a"/>
<rect x="22.34" y="863.8" width="5" height="6.7" fill="#b2dfdb"/>
<rect x="28.46" y="860.8" width="5" height="9.7" fill="#26a69a"/>
<rect x="34.57" y="858.8" width="5" height="11.7" fill="#26a69a"/>
<rect x="40.68" y="858.9" width="5" height="11.6" fill="#b2dfdb"/>
<rect x="46.8" y="862.8" width="5" height="7.7" fill="#b2dfdb"/>
<rect x="52.91" y="866.0" width="5" height="4.5" fill="#b2dfdb"/>
<rect x="59.02" y="868.9" width="5" height="1.6" fill="#b2dfdb"/>
<rect x="65.14" y="869.5" width="5" height="1.0" fill="#b2dfdb"/>
<rect x="71.25" y="870.5" width="5" height="1.0" fill="#ff5252"/>
<rect x="77.36" y="870.5" width="5" height="2.1" fill="#ff5252"/>
<rect x="83.48" y="870.5" width="5" height="2.4" fill="#ff5252"/>
<rect x="89.59" y="870.5" width="5" height="2.0" fill="#ffcdd2"/>
<rect x="95.7" y="870.5" width="5" height="4.3" fill="#ff5252"/>
<rect x="101.82" y="870.5" width="5" height="5.1" fill="#ff5252"/>
<rect x="107.93" y="870.5" width="5" height="5.2" fill="#ff5252"/>
<rect x="114.04" y="870.5" width="5" height="5.8" fill="#ff5252"/>
<rect x="120.16" y="870.5" width="5" height="5.8" fill="#ff5252"/>
<rect x="126.27" y="870.5" width="5" height="6.4" fill="#ff5252"/>
<rect x="132.38" y="870.5" width="5" height="7.2" fill="#ff5252"/>
<rect x="138.5" y="870.5" width="5" height="9.3" fill="#ff5252"/>
<rect x="144.61" y="870.5" width="5" height="9.5" fill="#ff5252"/>
<rect x="150.72" y="870.5" width="5" height="9.1" fill="#ffcdd2"/>
<rect x="156.84" y="870.5" width="5" height="8.1" fill="#ffcdd2"/>
<rect x="162.95" y="870.5" width="5" height="6.1" fill="#ffcdd2"/>
<rect x="169.06" y="870.5" width="5" height="5.3" fill="#ffcdd2"/>
<rect x="175.18" y="870.5" width="5" height="6.5" fill="#ff5252"/>
<rect x="181.29" y="870.5" width="5" height="5.6" fill="#ffcdd2"/>
<rect x="187.4" y="870.5" width="5" height="4.5" fill="#ffcdd2"/>
<rect x="193.52" y="870.5" width="5" height="1.6" fill="#ffcdd2"/>
<rect x="199.63" y="869.2" width="5" height="1.3" fill="#26a69a"/>
<rect x="205.74" y="867.6" width="5" height="2.9" fill="#26a69a"/>
<rect x="211.86" y="867.5" width="5" height="3.0" fill="#26a69a"/>
<rect x="217.97" y="869.0" width="5" height="1.5" fill="#b2dfdb"/>
<rect x="224.08" y="870.5" width="5" height="1.0" fill="#ff5252"/>
<rect x="230.2" y="870.5" width="5" height="1.4" fill="#ff5252"/>
<rect x="236.31" y="870.5" width="5" height="1.5" fill="#ff5252"/>
<rect x="242.42" y="870.5" width="5" height="1.0" fill="#ffcdd2"/>
<rect x="248.54" y="870.5" width="5" height="1.0" fill="#ff5252"/>
<rect x="254.65" y="870.5" width="5" height="1.0" fill="#ffcdd2"/>
<rect x="260.76" y="870.5" width="5" height="1.0" fill="#ff5252"/>
<rect x="266.88" y="870.5" width="5" height="1.4" fill="#ff5252"/>
<rect x="272.99" y="870.5" width="5" height="2.8" fill="#ff5252"/>
<rect x="279.1" y="870.5" width="5" height="4.3" fill="#ff5252"/>
<rect x="285.22" y="870.5" width="5" height="2.3" fill="#ffcdd2"/>
<rect x="291.33" y="870.5" width="5" height="1.0" fill="#ffcdd2"/>
<rect x="297.44" y="869.4" width="5" height="1.1" fill="#26a69a"/>
<rect x="303.56" y="870.1" width="5" height="1.0" fill="#b2dfdb"/>
<rect x="309.67" y="869.7" width="5" height="1.0" fill="#26a69a"/>
<rect x="315.78" y="868.6" width="5" height="1.9" fill="#26a69a"/>
<rect x="321.9" y="867.5" width="5" height="3.0" fill="#26a69a"/>
<rect x="328.01" y="866.4" width="5" height="4.1" fill="#26a69a"/>
<rect x="334.12" y="867.1" width="5" height="3.4" fill="#b2dfdb"/>
<rect x="340.24" y="866.4" width="5" height="4.1" fill="#26a69a"/>
<rect x="346.35" y="865.7" width="5" height="4.8" fill="#26a69a"/>
<rect x="352.46" y="866.3" width="5" height="4.2" fill="#b2dfdb"/>
<rect x="358.58" y="866.8" width="5" height="3.7" fill="#b2dfdb"/>
<rect x="364.69" y="866.3" width="5" height="4.2" fill="#26a69a"/>
<rect x="370.8" y="866.3" width="5" height="4.2" fill="#26a69a"/>
<rect x="376.92" y="865.6" width="5" height="4.9" fill="#26a69a"/>
<rect x="383.03" y="863.8" width="5" height="6.7" fill="#26a69a"/>
<rect x="389.14" y="860.3" width="5" height="10.2" fill="#26a69a"/>
<rect x="395.26" y="855.2" width="5" height="15.3" fill="#26a69a"/>
<rect x="401.37" y="852.7" width="5" height="17.8" fill="#26a69a"/>
<rect x="407.48" y="850.4" width="5" height="20.1" fill="#26a69a"/>
<rect x="413.6" y="847.9" width="5" height="22.6" fill="#26a69a"/>
<rect x="419.71" y="848.5" width="5" height="22.0" fill="#b2dfdb"/>
<rect x="425.82" y="848.0" width="5" height="22.5" fill="#26a69a"/>
<rect x="431.94" y="839.7" width="5" height="30.8" fill="#26a69a"/>
<rect x="438.05" y="839.0" width="5" height="31.5" fill="#26a69a"/>
<rect x="444.16" y="840.4" width="5" height="30.1" fill="#b2dfdb"/>
<rect x="450.28" y="842.8" width="5" height="27.7" fill="#b2dfdb"/>
<rect x="456.39" y="844.8" width="5" height="25.7" fill="#b2dfdb"/>
<rect x="462.5" y="848.0" width="5" height="22.5" fill="#b2dfdb"/>
<rect x="468.62" y="858.7" width="5" height="11.8" fill="#b2dfdb"/>
<rect x="474.73" y="867.4" width="5" height="3.1" fill="#b2dfdb"/>
<rect x="480.84" y="870.5" width="5" height="3.3" fill="#ff5252"/>
<rect x="486.96" y="870.5" width="5" height="7.5" fill="#ff5252"/>
<rect x="493.07" y="870.5" width="5" height="9.0" fill="#ff5252"/>
<rect x="499.18" y="870.5" width="5" height="12.4" fill="#ff5252"/>
<rect x="505.3" y="870.5" width="5" height="14.4" fill="#ff5252"/>
<rect x="511.41" y="870.5" width="5" height="16.2" fill="#ff5252"/>
<rect x="517.52" y="870.5" width="5" height="18.5" fill="#ff5252"/>
<rect x="523.64" y="870.5" width="5" height="20.6" fill="#ff5252"/>
<rect x="529.75" y="870.5" width="5" height="25.0" fill="#ff5252"/>
<rect x="535.86" y="870.5" width="5" height="23.5" fill="#ffcdd2"/>
<rect x="541.98" y="870.5" width="5" height="19.4" fill="#ffcdd2"/>
<rect x="548.09" y="870.5" width="5" height="18.3" fill="#ffcdd2"/>
<rect x="554.2" y="870.5" width="5" height="16.4" fill="#ffcdd2"/>
<rect x="560.32" y="870.5" width="5" height="8.4" fill="#ffcdd2"/>
<rect x="566.43" y="870.5" width="5" height="3.8" fill="#ffcdd2"/>
<rect x="572.54" y="870.5" width="5" height="2.1" fill="#ffcdd2"/>
<rect x="578.66" y="870.5" width="5" height="2.0" fill="#ffcdd2"/>
<rect x="584.77" y="870.5" width="5" height="3.1" fill="#ff5252"/>
<rect x="590.88" y="870.5" width="5" height="1.2" fill="#ffcdd2"/>
<rect x="597.0" y="870.5" width="5" height="1.0" fill="#ffcdd2"/>
<rect x="603.11" y="870.5" width="5" height="3.3" fill="#ff5252"/>
<rect x="609.22" y="870.5" width="5" height="5.4" fill="#ff5252"/>
<rect x="615.34" y="870.5" width="5" height="6.1" fill="#ff5252"/>
<rect x="621.45" y="870.5" width="5" height="6.8" fill="#ff5252"/>
<rect x="627.56" y="870.5" width="5" height="7.5" fill="#ff5252"/>
<rect x="633.68" y="870.5" width="5" height="11.5" fill="#ff5252"/>
<rect x="639.79" y="870.5" width="5" height="11.8" fill="#ff5252"/>
<rect x="645.91" y="870.5" width="5" height="13.4" fill="#ff5252"/>
<rect x="652.02" y="870.5" width="5" height="9.6" fill="#ffcdd2"/>
<rect x="658.13" y="870.5" width="5" height="7.2" fill="#ffcdd2"/>
<rect x="664.25" y="870.5" width="5" height="5.8" fill="#ffcdd2"/>
<rect x="670.36" y="870.5" width="5" height="7.8" fill="#ff5252"/>
<rect x="676.47" y="870.5" width="5" height="5.7" fill="#ffcdd2"/>
<rect x="682.59" y="870.5" width="5" height="5.0" fill="#ffcdd2"/>
<rect x="688.7" y="870.5" width="5" height="4.3" fill="#ffcdd2"/>
<rect x="694.81" y="870.5" width="5" height="6.4" fill="#ff5252"/>
<rect x="700.93" y="870.5" width="5" height="7.3" fill="#ff5252"/>
<rect x="707.04" y="870.5" width="5" height="8.3" fill="#ff5252"/>
<rect x="713.15" y="870.5" width="5" height="8.7" fill="#ff5252"/>
<rect x="719.27" y="870.5" width="5" height="6.4" fill="#ffcdd2"/>
<rect x="725.38" y="870.5" width="5" height="4.9" fill="#ffcdd2"/>
<rect x="731.49" y="870.5" width="5" height="4.5" fill="#ffcdd2"/>
<rect x="737.61" y="870.5" width="5" height="3.5" fill="#ffcdd2"/>
<rect x="743.72" y="870.5" width="5" height="2.7" fill="#ffcdd2"/>
<rect x="749.83" y="870.5" width="5" height="1.0" fill="#ffcdd2"/>
<rect x="755.95" y="867.8" width="5" height="2.7" fill="#26a69a"/>
<rect x="762.06" y="866.3" width="5" height="4.2" fill="#26a69a"/>
<rect x="768.17" y="864.6" width="5" height="5.9" fill="#26a69a"/>
<rect x="774.29" y="862.7" width="5" height="7.8" fill="#26a69a"/>
<rect x="780.4" y="860.6" width="5" height="9.9" fill="#26a69a"/>
<rect x="786.51" y="859.4" width="5" height="11.1" fill="#26a69a"/>
<rect x="792.63" y="861.0" width="5" height="9.5" fill="#b2dfdb"/>
<rect x="798.74" y="863.1" width="5" height="7.4" fill="#b2dfdb"/>
<rect x="804.85" y="863.9" width="5" height="6.6" fill="#b2dfdb"/>
<rect x="810.97" y="863.9" width="5" height="6.6" fill="#b2dfdb"/>
<rect x="817.08" y="864.5" width="5" height="6.0" fill="#b2dfdb"/>
<rect x="823.19" y="866.8" width="5" height="3.7" fill="#b2dfdb"/>
<rect x="829.31" y="868.7" width="5" height="1.8" fill="#b2dfdb"/>
<rect x="835.42" y="870.2" width="5" height="1.0" fill="#b2dfdb"/>
<rect x="841.53" y="870.5" width="5" height="2.9" fill="#ff5252"/>
<rect x="847.65" y="870.5" width="5" height="5.3" fill="#ff5252"/>
<rect x="853.76" y="870.5" width="5" height="4.6" fill="#ffcdd2"/>
<rect x="859.87" y="870.5" width="5" height="7.4" fill="#ff5252"/>
<rect x="865.99" y="870.5" width="5" height="8.0" fill="#ff5252"/>
<rect x="872.1" y="870.5" width="5" height="7.6" fill="#ffcdd2"/>
<rect x="878.21" y="870.5" width="5" height="5.6" fill="#ffcdd2"/>
<rect x="884.33" y="870.5" width="5" height="3.8" fill="#ffcdd2"/>
<rect x="890.44" y="870.5" width="5" height="3.1" fill="#ffcdd2"/>
<rect x="896.55" y="870.5" width="5" height="1.0" fill="#ffcdd2"/>
<rect x="902.67" y="867.5" width="5" height="3.0" fill="#26a69a"/>
<rect x="908.78" y="865.4" width="5" height="5.1" fill="#26a69a"/>
<rect x="914.89" y="865.7" width="5" height="4.8" fill="#b2dfdb"/>
<rect x="921.01" y="866.0" width="5" height="4.5" fill="#b2dfdb"/>
<rect x="927.12" y="866.1" width="5" height="4.4" fill="#b2dfdb"/>
<rect x="933.23" y="869.0" width="5" height="1.5" fill="#b2dfdb"/>
<rect x="939.35" y="870.3" width="5" height="1.0" fill="#b2dfdb"/>
<rect x="945.46" y="870.5" width="5" height="2.1" fill="#ff5252"/>
<rect x="951.57" y="870.5" width="5" height="11.6" fill="#ff5252"/>
<rect x="957.69" y="870.5" width="5" height="16.6" fill="#ff5252"/>
<rect x="963.8" y="870.5" width="5" height="16.0" fill="#ffcdd2"/>
<rect x="969.91" y="870.5" width="5" height="13.3" fill="#ffcdd2"/>
<rect x="976.03" y="870.5" width="5" height="12.7" fill="#ffcdd2"/>
<rect x="982.14" y="870.5" width="5" height="13.2" fill="#ff5252"/>
<rect x="988.25" y="870.5" width="5" height="14.1" fill="#ff5252"/>
<rect x="994.37" y="870.5" width="5" height="14.4" fill="#ff5252"/>
<rect x="1000.48" y="870.5" width="5" height="12.3" fill="#ffcdd2"/>
<rect x="1006.59" y="870.5" width="5" height="9.4" fill="#ffcdd2"/>
<rect x="1012.71" y="870.5" width="5" height="4.8" fill="#ffcdd2"/>
<rect x="1018.82" y="870.5" width="5" height="2.8" fill="#ffcdd2"/>
<rect x="1024.93" y="870.5" width="5" height="2.1" fill="#ffcdd2"/>
<rect x="1031.05" y="870.5" width="5" height="1.0" fill="#ffcdd2"/>
<rect x="1037.16" y="867.6" width="5" height="2.9" fill="#26a69a"/>
<rect x="1043.27" y="863.6" width="5" height="6.9" fill="#26a69a"/>
<rect x="1049.39" y="860.2" width="5" height="10.3" fill="#26a69a"/>
<rect x="1055.5" y="858.5" width="5" height="12.0" fill="#26a69a"/>
<rect x="1061.61" y="858.4" width="5" height="12.1" fill="#26a69a"/>
<rect x="1067.73" y="859.7" width="5" height="10.8" fill="#b2dfdb"/>
<rect x="1073.84" y="863.0" width="5" height="7.5" fill="#b2dfdb"/>
<rect x="1079.95" y="863.9" width="5" height="6.6" fill="#b2dfdb"/>
<rect x="1086.07" y="864.7" width="5" height="5.8" fill="#b2dfdb"/>
<rect x="1092.18" y="865.0" width="5" height="5.5" fill="#b2dfdb"/>
<rect x="1098.29" y="869.4" width="5" height="1.1" fill="#b2dfdb"/>
<rect x="1104.41" y="870.5" width="5" height="3.5" fill="#ff5252"/>
<rect x="1110.52" y="870.5" width="5" height="3.4" fill="#ffcdd2"/>
<rect x="1116.63" y="870.5" width="5" height="5.5" fill="#ff5252"/>
<rect x="1122.75" y="870.5" width="5" height="4.3" fill="#ffcdd2"/>
<rect x="1128.86" y="870.5" width="5" height="3.8" fill="#ffcdd2"/>
<rect x="1134.97" y="870.5" width="5" height="1.4" fill="#ffcdd2"/>
<rect x="1141.09" y="867.2" width="5" height="3.3" fill="#26a69a"/>
<rect x="1147.2" y="866.8" width="5" height="3.7" fill="#26a69a"/>
<rect x="1153.31" y="866.6" width="5" height="3.9" fill="#26a69a"/>
<rect x="1159.43" y="867.7" width="5" height="2.8" fill="#b2dfdb"/>
<rect x="1165.54" y="869.8" width="5" height="1.0" fill="#b2dfdb"/>
<rect x="1171.65" y="870.5" width="5" height="1.0" fill="#ff5252"/>
<rect x="1177.77" y="870.5" width="5" height="1.7" fill="#ff5252"/>
<rect x="1183.88" y="870.5" width="5" height="3.1" fill="#ff5252"/>
<rect x="1189.99" y="870.5" width="5" height="2.5" fill="#ffcdd2"/>
<rect x="1196.11" y="870.5" width="5" height="3.9" fill="#ff5252"/>
<rect x="1202.22" y="870.5" width="5" height="6.4" fill="#ff5252"/>
<rect x="1208.33" y="870.5" width="5" height="8.4" fill="#ff5252"/>
<rect x="1214.45" y="870.5" width="5" height="8.9" fill="#ff5252"/>
<rect x="1220.56" y="870.5" width="5" height="6.6" fill="#ffcdd2"/>
<rect x="1226.67" y="870.5" width="5" height="1.2" fill="#ffcdd2"/>
<rect x="1232.79" y="868.5" width="5" height="2.0" fill="#26a69a"/>
<rect x="1238.9" y="865.9" width="5" height="4.6" fill="#26a69a"/>
<rect x="1245.01" y="864.7" width="5" height="5.8" fill="#26a69a"/>
<rect x="1251.13" y="864.5" width="5" height="6.0" fill="#26a69a"/>
<rect x="1257.24" y="863.9" width="5" height="6.6" fill="#26a69a"/>
<rect x="1263.35" y="864.5" width="5" height="6.0" fill="#b2dfdb"/>
<rect x="1269.47" y="867.4" width="5" height="3.1" fill="#b2dfdb"/>
<rect x="1275.58" y="866.9" width="5" height="3.6" fill="#26a69a"/>
<rect x="1281.69" y="865.6" width="5" height="4.9" fill="#26a69a"/>
<rect x="1287.81" y="866.9" width="5" height="3.6" fill="#b2dfdb"/>
<rect x="1293.92" y="868.9" width="5" height="1.6" fill="#b2dfdb"/>
<rect x="1300.03" y="870.1" width="5" height="1.0" fill="#b2dfdb"/>
<rect x="1306.15" y="870.5" width="5" height="1.0" fill="#b2dfdb"/>
<rect x="1312.26" y="870.0" width="5" height="1.0" fill="#26a69a"/>
<rect x="1318.37" y="868.8" width="5" height="1.7" fill="#26a69a"/>
<rect x="1324.49" y="869.4" width="5" height="1.1" fill="#b2dfdb"/>
<rect x="1330.6" y="869.7" width="5" height="1.0" fill="#b2dfdb"/>
<rect x="1336.71" y="870.3" width="5" height="1.0" fill="#b2dfdb"/>
<rect x="1342.83" y="870.2" width="5" height="1.0" fill="#26a69a"/>
<rect x="1348.94" y="870.5" width="5" height="1.0" fill="#ff5252"/>
<rect x="1355.05" y="870.5" width="5" height="2.1" fill="#ff5252"/>
<rect x="1361.17" y="870.5" width="5" height="2.4" fill="#ff5252"/>
<rect x="1367.28" y="870.5" width="5" height="3.5" fill="#ff5252"/>
<rect x="1373.39" y="870.5" width="5" height="4.9" fill="#ff5252"/>
<rect x="1379.51" y="870.5" width="5" height="3.4" fill="#ffcdd2"/>
<rect x="1385.62" y="870.5" width="5" height="1.6" fill="#ffcdd2"/>
<rect x="1391.73" y="870.5" width="5" height="1.0" fill="#ffcdd2"/>
<rect x="1397.85" y="870.3" width="5" height="1.0" fill="#26a69a"/>
<rect x="1403.96" y="870.3" width="5" height="1.0" fill="#b2dfdb"/>
<rect x="1410.07" y="870.4" width="5" height="1.0" fill="#b2dfdb"/>
<rect x="1416.19" y="870.5" width="5" height="1.0" fill="#ff5252"/>
<rect x="1422.3" y="870.5" width="5" height="1.0" fill="#ffcdd2"/>
<rect x="1428.41" y="869.7" width="5" height="1.0" fill="#26a69a"/>
<rect x="1434.53" y="869.1" width="5" height="1.4" fill="#26a69a"/>
<rect x="1440.64" y="869.0" width="5" height="1.5" fill="#26a69a"/>
<rect x="1446.75" y="868.2" width="5" height="2.3" fill="#26a69a"/>
<rect x="1452.87" y="868.3" width="5" height="2.2" fill="#b2dfdb"/>
<rect x="1458.98" y="867.6" width="5" height="2.9" fill="#26a69a"/>
<rect x="1465.09" y="866.3" width="5" height="4.2" fill="#26a69a"/>
<polyline points="12.6,861.0 18.7,857.5 24.8,855.7 31.0,850.3 37.1,845.3 43.2,842.5 49.3,844.6 55.4,846.6 61.5,849.1 67.6,849.5 73.8,851.2 79.9,853.3 86.0,854.2 92.1,854.2 98.2,857.7 104.3,859.7 110.4,861.2 116.5,863.1 122.7,864.6 128.8,866.9 134.9,869.4 141.0,873.8 147.1,876.4 153.2,878.3 159.3,879.3 165.5,878.8 171.6,879.4 177.7,882.2 183.8,882.7 189.9,882.7 196.0,880.3 202.1,877.0 208.2,874.7 214.4,873.8 220.5,874.9 226.6,876.7 232.7,878.3 238.8,878.8 244.9,877.4 251.0,878.1 257.2,878.2 263.3,878.4 269.4,879.5 275.5,881.6 281.6,884.2 287.7,882.8 293.8,880.7 299.9,879.1 306.1,879.8 312.2,879.2 318.3,877.6 324.4,875.8 330.5,873.6 336.6,873.4 342.7,871.7 348.9,869.9 355.0,869.3 361.1,869.0 367.2,867.4 373.3,866.3 379.4,864.5 385.5,860.9 391.6,854.9 397.8,845.9 403.9,839.0 410.0,831.7 416.1,823.5 422.2,818.6 428.3,812.5 434.4,796.5 440.6,787.9 446.7,781.8 452.8,777.3 458.9,772.8 465.0,770.4 471.1,778.1 477.2,786.1 483.3,793.3 489.5,799.4 495.6,803.1 501.7,809.6 507.8,815.3 513.9,821.1 520.0,828.0 526.1,835.3 532.3,846.0 538.4,850.3 544.5,851.1 550.6,854.5 556.7,856.7 562.8,850.8 568.9,847.2 575.0,846.1 581.2,846.4 587.3,848.3 593.4,846.7 599.5,845.6 605.6,849.6 611.7,853.1 617.8,855.3 624.0,857.7 630.1,860.3 636.2,867.2 642.3,870.5 648.4,875.4 654.5,873.9 660.6,873.4 666.7,873.5 672.9,877.4 679.0,876.8 685.1,877.2 691.2,877.6 697.3,881.3 703.4,884.1 709.5,887.2 715.7,889.7 721.8,889.1 727.9,888.8 734.0,889.5 740.1,889.4 746.2,889.3 752.3,887.3 758.4,883.3 764.6,880.7 770.7,877.6 776.8,873.7 782.9,869.2 789.0,865.2 795.1,864.5 801.2,864.6 807.4,863.8 813.5,862.2 819.6,861.2 825.7,862.6 831.8,864.1 837.9,865.5 844.0,869.5 850.1,873.2 856.3,873.7 862.4,878.3 868.5,880.9 874.6,882.3 880.7,881.8 886.8,881.0 892.9,881.0 899.1,878.5 905.2,874.3 911.3,870.9 917.4,870.0 923.5,869.2 929.6,868.2 935.7,870.7 941.8,871.9 948.0,874.8 954.1,887.2 960.2,896.3 966.3,899.8 972.4,900.3 978.5,902.9 984.6,906.7 990.8,911.2 996.9,915.1 1003.0,916.0 1009.1,915.5 1015.2,912.1 1021.3,910.8 1027.4,910.6 1033.5,909.2 1039.7,905.0 1045.8,899.2 1051.9,893.3 1058.0,888.6 1064.1,885.5 1070.2,884.1 1076.3,885.5 1082.5,884.8 1088.6,884.2 1094.7,883.0 1100.8,887.1 1106.9,892.6 1113.0,893.3 1119.1,896.8 1125.2,896.7 1131.4,897.1 1137.5,895.1 1143.6,889.6 1149.7,888.2 1155.8,887.1 1161.9,887.5 1168.0,889.4 1174.2,890.9 1180.3,892.4 1186.4,894.5 1192.5,894.6 1198.6,897.0 1204.7,901.1 1210.8,905.2 1216.9,907.9 1223.1,907.3 1229.2,902.2 1235.3,898.5 1241.4,894.7 1247.5,892.1 1253.6,890.3 1259.7,888.1 1265.9,887.3 1272.0,889.4 1278.1,887.9 1284.2,885.5 1290.3,885.8 1296.4,887.5 1302.5,888.6 1308.6,888.9 1314.8,888.3 1320.9,886.7 1327.0,887.0 1333.1,887.1 1339.2,887.7 1345.3,887.5 1351.4,888.2 1357.6,890.6 1363.7,891.4 1369.8,893.4 1375.9,896.0 1382.0,895.3 1388.1,893.9 1394.2,892.8 1400.3,892.2 1406.5,892.2 1412.6,892.1 1418.7,892.6 1424.8,892.4 1430.9,891.3 1437.0,890.4 1443.1,889.9 1449.3,888.5 1455.4,888.1 1461.5,886.7 1467.6,884.3" fill="none" stroke="#2962ff" stroke-width="1.5" stroke-linejoin="round"/>
<polyline points="12.6,865.2 18.7,864.1 24.8,862.4 31.0,860.0 37.1,857.1 43.2,854.2 49.3,852.2 55.4,851.1 61.5,850.7 67.6,850.5 73.8,850.6 79.9,851.1 86.0,851.7 92.1,852.2 98.2,853.3 104.3,854.6 110.4,855.9 116.5,857.4 122.7,858.8 128.8,860.4 134.9,862.2 141.0,864.5 147.1,866.9 153.2,869.2 159.3,871.2 165.5,872.7 171.6,874.1 177.7,875.7 183.8,877.1 189.9,878.2 196.0,878.6 202.1,878.3 208.2,877.6 214.4,876.8 220.5,876.5 226.6,876.5 232.7,876.9 238.8,877.3 244.9,877.3 251.0,877.4 257.2,877.6 263.3,877.8 269.4,878.1 275.5,878.8 281.6,879.9 287.7,880.5 293.8,880.5 299.9,880.2 306.1,880.1 312.2,880.0 318.3,879.5 324.4,878.7 330.5,877.7 336.6,876.8 342.7,875.8 348.9,874.6 355.0,873.6 361.1,872.7 367.2,871.6 373.3,870.6 379.4,869.3 385.5,867.7 391.6,865.1 397.8,861.3 403.9,856.8 410.0,851.8 416.1,846.1 422.2,840.6 428.3,835.0 434.4,827.3 440.6,819.4 446.7,811.9 452.8,805.0 458.9,798.5 465.0,792.9 471.1,790.0 477.2,789.2 483.3,790.0 489.5,791.9 495.6,794.1 501.7,797.2 507.8,800.8 513.9,804.9 520.0,809.5 526.1,814.7 532.3,820.9 538.4,826.8 544.5,831.7 550.6,836.2 556.7,840.3 562.8,842.4 568.9,843.4 575.0,843.9 581.2,844.4 587.3,845.2 593.4,845.5 599.5,845.5 605.6,846.3 611.7,847.7 617.8,849.2 624.0,850.9 630.1,852.8 636.2,855.7 642.3,858.6 648.4,862.0 654.5,864.4 660.6,866.2 666.7,867.6 672.9,869.6 679.0,871.0 685.1,872.3 691.2,873.3 697.3,874.9 703.4,876.8 709.5,878.8 715.7,881.0 721.8,882.6 727.9,883.9 734.0,885.0 740.1,885.9 746.2,886.5 752.3,886.7 758.4,886.0 764.6,885.0 770.7,883.5 776.8,881.5 782.9,879.1 789.0,876.3 795.1,873.9 801.2,872.1 807.4,870.4 813.5,868.8 819.6,867.3 825.7,866.3 831.8,865.9 837.9,865.8 844.0,866.5 850.1,867.9 856.3,869.0 862.4,870.9 868.5,872.9 874.6,874.8 880.7,876.2 886.8,877.1 892.9,877.9 899.1,878.0 905.2,877.3 911.3,876.0 917.4,874.8 923.5,873.7 929.6,872.6 935.7,872.2 941.8,872.2 948.0,872.7 954.1,875.6 960.2,879.7 966.3,883.7 972.4,887.1 978.5,890.2 984.6,893.5 990.8,897.0 996.9,900.6 1003.0,903.7 1009.1,906.1 1015.2,907.3 1021.3,908.0 1027.4,908.5 1033.5,908.7 1039.7,907.9 1045.8,906.2 1051.9,903.6 1058.0,900.6 1064.1,897.6 1070.2,894.9 1076.3,893.0 1082.5,891.4 1088.6,889.9 1094.7,888.5 1100.8,888.3 1106.9,889.1 1113.0,890.0 1119.1,891.3 1125.2,892.4 1131.4,893.4 1137.5,893.7 1143.6,892.9 1149.7,892.0 1155.8,891.0 1161.9,890.3 1168.0,890.1 1174.2,890.3 1180.3,890.7 1186.4,891.5 1192.5,892.1 1198.6,893.1 1204.7,894.7 1210.8,896.8 1216.9,899.0 1223.1,900.7 1229.2,901.0 1235.3,900.5 1241.4,899.3 1247.5,897.9 1253.6,896.4 1259.7,894.7 1265.9,893.2 1272.0,892.5 1278.1,891.6 1284.2,890.3 1290.3,889.4 1296.4,889.0 1302.5,888.9 1308.6,888.9 1314.8,888.8 1320.9,888.4 1327.0,888.1 1333.1,887.9 1339.2,887.9 1345.3,887.8 1351.4,887.9 1357.6,888.4 1363.7,889.0 1369.8,889.9 1375.9,891.1 1382.0,891.9 1388.1,892.3 1394.2,892.4 1400.3,892.4 1406.5,892.3 1412.6,892.3 1418.7,892.4 1424.8,892.4 1430.9,892.2 1437.0,891.8 1443.1,891.4 1449.3,890.9 1455.4,890.3 1461.5,889.6 1467.6,888.5" fill="none" stroke="#ff6d00" stroke-width="1.5" stroke-linejoin="round"/>
</g>
<text x="14.56" y="28" font-family="Liberation Sans, sans-serif" font-size="17" fill="#131722" stroke="#131722" stroke-width="0.35" font-weight="normal" text-anchor="start" textLength="118.0" lengthAdjust="spacingAndGlyphs">ChamiCrypto78</text>
<text x="138.2" y="28" font-family="Liberation Sans, sans-serif" font-size="17" fill="#131722" stroke="#131722" stroke-width="0.35" font-weight="normal" text-anchor="start" textLength="59.5" lengthAdjust="spacingAndGlyphs">created</text>
<text x="203.6" y="28" font-family="Liberation Sans, sans-serif" font-size="17" fill="#131722" stroke="#131722" stroke-width="0.35" font-weight="normal" text-anchor="start" textLength="34.9" lengthAdjust="spacingAndGlyphs">with</text>
<text x="242.5" y="28" font-family="Liberation Sans, sans-serif" font-size="17" fill="#131722" stroke="#131722" stroke-width="0.35" font-weight="normal" text-anchor="start" textLength="137.9" lengthAdjust="spacingAndGlyphs">TradingView.com,</text>
<text x="386.6" y="28" font-family="Liberation Sans, sans-serif" font-size="17" fill="#131722" stroke="#131722" stroke-width="0.35" font-weight="normal" text-anchor="start" textLength="27.1" lengthAdjust="spacingAndGlyphs">Jan</text>
<text x="419.20000000000005" y="28" font-family="Liberation Sans, sans-serif" font-size="17" fill="#131722" stroke="#131722" stroke-width="0.35" font-weight="normal" text-anchor="start" textLength="23.5" lengthAdjust="spacingAndGlyphs">02,</text>
<text x="448.90000000000003" y="28" font-family="Liberation Sans, sans-serif" font-size="17" fill="#131722" stroke="#131722" stroke-width="0.35" font-weight="normal" text-anchor="start" textLength="35.3" lengthAdjust="spacingAndGlyphs">2026</text>
<text x="493.5" y="28" font-family="Liberation Sans, sans-serif" font-size="17" fill="#131722" stroke="#131722" stroke-width="0.35" font-weight="normal" text-anchor="start" textLength="39.1" lengthAdjust="spacingAndGlyphs">16:13</text>
<text x="539.5" y="28" font-family="Liberation Sans, sans-serif" font-size="17" fill="#131722" stroke="#131722" stroke-width="0.35" font-weight="normal" text-anchor="start" textLength="31.4" lengthAdjust="spacingAndGlyphs">UTC</text>
<text x="26.0" y="68" font-family="Liberation Sans, sans-serif" font-size="17" fill="#131722" stroke="#131722" stroke-width="0.35" font-weight="normal" text-anchor="start" textLength="28.7" lengthAdjust="spacingAndGlyphs">XRP</text>
<text x="76.0" y="68" font-family="Liberation Sans, sans-serif" font-size="17" fill="#131722" stroke="#131722" stroke-width="0.35" font-weight="normal" text-anchor="start" textLength="68.9" lengthAdjust="spacingAndGlyphs">TetherUS</text>
<text x="162.4" y="68" font-family="Liberation Sans, sans-serif" font-size="17" fill="#131722" stroke="#131722" stroke-width="0.35" font-weight="normal" text-anchor="start" textLength="18.4" lengthAdjust="spacingAndGlyphs">1D</text>
<text x="199.0" y="68" font-family="Liberation Sans, sans-serif" font-size="17" fill="#131722" stroke="#131722" stroke-width="0.35" font-weight="normal" text-anchor="start" textLength="61.0" lengthAdjust="spacingAndGlyphs">Binance</text>
<text x="270.20000000000005" y="68" font-family="Liberation Sans, sans-serif" font-size="17" fill="#131722" stroke="#131722" stroke-width="0.35" font-weight="normal" text-anchor="start" textLength="12.2" lengthAdjust="spacingAndGlyphs">O</text>
<text x="345.35" y="68" font-family="Liberation Sans, sans-serif" font-size="17" fill="#131722" stroke="#131722" stroke-width="0.35" font-weight="normal" text-anchor="start" textLength="11.4" lengthAdjust="spacingAndGlyphs">H</text>
<text x="419.6" y="68" font-family="Liberation Sans, sans-serif" font-size="17" fill="#131722" stroke="#131722" stroke-width="0.35" font-weight="normal" text-anchor="start" textLength="7.9" lengthAdjust="spacingAndGlyphs">L</text>
<text x="490.35" y="68" font-family="Liberation Sans, sans-serif" font-size="17" fill="#131722" stroke="#131722" stroke-width="0.35" font-weight="normal" text-anchor="start" textLength="10.2" lengthAdjust="spacingAndGlyphs">C</text>
<line x1="63.6" y1="70.8" x2="69.8" y2="55" stroke="#131722" stroke-width="1.5"/>
<text x="154.1" y="68" font-family="Liberation Sans, sans-serif" font-size="17" fill="#131722" stroke="#131722" stroke-width="0.35" font-weight="normal" text-anchor="middle">·</text>
<text x="190.8" y="68" font-family="Liberation Sans, sans-serif" font-size="17" fill="#131722" stroke="#131722" stroke-width="0.35" font-weight="normal" text-anchor="middle">·</text>
<text x="283.5" y="68" font-family="Liberation Sans, sans-serif" font-size="17" fill="#089981" stroke="#089981" stroke-width="0.35" font-weight="normal" text-anchor="start" textLength="51.3" lengthAdjust="spacingAndGlyphs">1.8799</text>
<text x="357.6" y="68" font-family="Liberation Sans, sans-serif" font-size="17" fill="#089981" stroke="#089981" stroke-width="0.35" font-weight="normal" text-anchor="start" textLength="50.4" lengthAdjust="spacingAndGlyphs">1.9271</text>
<text x="428.35" y="68" font-family="Liberation Sans, sans-serif" font-size="17" fill="#089981" stroke="#089981" stroke-width="0.35" font-weight="normal" text-anchor="start" textLength="52.1" lengthAdjust="spacingAndGlyphs">1.8689</text>
<text x="501.40000000000003" y="68" font-family="Liberation Sans, sans-serif" font-size="17" fill="#089981" stroke="#089981" stroke-width="0.35" font-weight="normal" text-anchor="start" textLength="52.1" lengthAdjust="spacingAndGlyphs">1.9250</text>
<text x="563.6" y="68" font-family="Liberation Sans, sans-serif" font-size="17" fill="#089981" stroke="#089981" stroke-width="0.35" font-weight="normal" text-anchor="start" textLength="61.4" lengthAdjust="spacingAndGlyphs">+0.0451</text>
<text x="630.1" y="68" font-family="Liberation Sans, sans-serif" font-size="17" fill="#089981" stroke="#089981" stroke-width="0.35" font-weight="normal" text-anchor="start" textLength="66.4" lengthAdjust="spacingAndGlyphs">(+2.40%)</text>
<text x="26.0" y="93" font-family="Liberation Sans, sans-serif" font-size="17" fill="#131722" stroke="#131722" stroke-width="0.35" font-weight="normal" text-anchor="start" textLength="31.4" lengthAdjust="spacingAndGlyphs">EMA</text>
<text x="64.3" y="93" font-family="Liberation Sans, sans-serif" font-size="17" fill="#131722" stroke="#131722" stroke-width="0.35" font-weight="normal" text-anchor="start" textLength="29.0" lengthAdjust="spacingAndGlyphs">(50,</text>
<text x="99.39999999999999" y="93" font-family="Liberation Sans, sans-serif" font-size="17" fill="#131722" stroke="#131722" stroke-width="0.35" font-weight="normal" text-anchor="start" textLength="45.8" lengthAdjust="spacingAndGlyphs">close)</text>
<text x="156.5" y="93" font-family="Liberation Sans, sans-serif" font-size="17" fill="#2962ff" stroke="#2962ff" stroke-width="0.35" font-weight="normal" text-anchor="start" textLength="52.1" lengthAdjust="spacingAndGlyphs">2.0387</text>
<text x="25.6" y="780" font-family="Liberation Sans, sans-serif" font-size="17" fill="#131722" stroke="#131722" stroke-width="0.35" font-weight="normal" text-anchor="start" textLength="43.9" lengthAdjust="spacingAndGlyphs">MACD</text>
<text x="76.6" y="780" font-family="Liberation Sans, sans-serif" font-size="17" fill="#131722" stroke="#131722" stroke-width="0.35" font-weight="normal" text-anchor="start" textLength="50.0" lengthAdjust="spacingAndGlyphs">(close,</text>
<text x="133.7" y="780" font-family="Liberation Sans, sans-serif" font-size="17" fill="#131722" stroke="#131722" stroke-width="0.35" font-weight="normal" text-anchor="start" textLength="22.5" lengthAdjust="spacingAndGlyphs">12,</text>
<text x="162.1" y="780" font-family="Liberation Sans, sans-serif" font-size="17" fill="#131722" stroke="#131722" stroke-width="0.35" font-weight="normal" text-anchor="start" textLength="24.6" lengthAdjust="spacingAndGlyphs">26,</text>
<text x="193.79999999999998" y="780" font-family="Liberation Sans, sans-serif" font-size="17" fill="#131722" stroke="#131722" stroke-width="0.35" font-weight="normal" text-anchor="start" textLength="14.9" lengthAdjust="spacingAndGlyphs">9)</text>
<text x="218.7" y="780" font-family="Liberation Sans, sans-serif" font-size="17" fill="#26a69a" stroke="#26a69a" stroke-width="0.35" font-weight="normal" text-anchor="start" textLength="51.3" lengthAdjust="spacingAndGlyphs">0.0141</text>
<text x="281.8" y="780" font-family="Liberation Sans, sans-serif" font-size="17" fill="#2962ff" stroke="#2962ff" stroke-width="0.35" font-weight="normal" text-anchor="start" textLength="60.9" lengthAdjust="spacingAndGlyphs">−0.0468</text>
<text x="353.5" y="780" font-family="Liberation Sans, sans-serif" font-size="17" fill="#ff6d00" stroke="#ff6d00" stroke-width="0.35" font-weight="normal" text-anchor="start" textLength="61.0" lengthAdjust="spacingAndGlyphs">−0.0609</text>
<text x="153.22369999999998" y="958.6" font-family="Liberation Sans, sans-serif" font-size="17" fill="#131722" stroke="#131722" stroke-width="0.35" font-weight="normal" text-anchor="middle">Jun</text>
<text x="336.6242" y="958.6" font-family="Liberation Sans, sans-serif" font-size="17" fill="#131722" stroke="#131722" stroke-width="0.35" font-weight="normal" text-anchor="middle">Jul</text>
<text x="526.1380499999999" y="958.6" font-family="Liberation Sans, sans-serif" font-size="17" fill="#131722" stroke="#131722" stroke-width="0.35" font-weight="normal" text-anchor="middle">Aug</text>
<text x="715.6519" y="958.6" font-family="Liberation Sans, sans-serif" font-size="17" fill="#131722" stroke="#131722" stroke-width="0.35" font-weight="normal" text-anchor="middle">Sep</text>
<text x="899.0523999999999" y="958.6" font-family="Liberation Sans, sans-serif" font-size="17" fill="#131722" stroke="#131722" stroke-width="0.35" font-weight="normal" text-anchor="middle">Oct</text>
<text x="1088.5662499999999" y="958.6" font-family="Liberation Sans, sans-serif" font-size="17" fill="#131722" stroke="#131722" stroke-width="0.35" font-weight="normal" text-anchor="middle">Nov</text>
<text x="1271.96675" y="958.6" font-family="Liberation Sans, sans-serif" font-size="17" fill="#131722" stroke="#131722" stroke-width="0.35" font-weight="normal" text-anchor="middle">Dec</text>
<text x="1461.4805999999999" y="958.6" font-family="Liberation Sans, sans-serif" font-size="17" fill="#131722" stroke="#131722" stroke-width="0" font-weight="bold" text-anchor="middle" textLength="39.5" lengthAdjust="spacingAndGlyphs">2026</text>
<text x="1650.99445" y="958.6" font-family="Liberation Sans, sans-serif" font-size="17" fill="#131722" stroke="#131722" stroke-width="0.35" font-weight="normal" text-anchor="middle">Feb</text>
<text x="1822.16825" y="958.6" font-family="Liberation Sans, sans-serif" font-size="17" fill="#131722" stroke="#131722" stroke-width="0.35" font-weight="normal" text-anchor="middle">Mar</text>
<text x="1951.5" y="155.29999999999995" font-family="Liberation Sans, sans-serif" font-size="17" fill="#131722" stroke="#131722" stroke-width="0.35" font-weight="normal" text-anchor="start" textLength="51.5" lengthAdjust="spacingAndGlyphs">3.2000</text>
<text x="1951.5" y="307.30000000000007" font-family="Liberation Sans, sans-serif" font-size="17" fill="#131722" stroke="#131722" stroke-width="0.35" font-weight="normal" text-anchor="start" textLength="51.5" lengthAdjust="spacingAndGlyphs">2.8000</text>
<text x="1951.5" y="459.3" font-family="Liberation Sans, sans-serif" font-size="17" fill="#131722" stroke="#131722" stroke-width="0.35" font-weight="normal" text-anchor="start" textLength="51.5" lengthAdjust="spacingAndGlyphs">2.4000</text>
<text x="1951.5" y="611.3" font-family="Liberation Sans, sans-serif" font-size="17" fill="#131722" stroke="#131722" stroke-width="0.35" font-weight="normal" text-anchor="start" textLength="51.5" lengthAdjust="spacingAndGlyphs">2.0000</text>
<text x="1951.5" y="817.5999999999999" font-family="Liberation Sans, sans-serif" font-size="17" fill="#131722" stroke="#131722" stroke-width="0.35" font-weight="normal" text-anchor="start" textLength="51.5" lengthAdjust="spacingAndGlyphs">0.2000</text>
<clipPath id="ax"><rect x="1938" y="752" width="95" height="180"/></clipPath><g clip-path="url(#ax)">
<text x="1951.5" y="935.5999999999999" font-family="Liberation Sans, sans-serif" font-size="17" fill="#131722" stroke="#131722" stroke-width="0.35" font-weight="normal" text-anchor="start" textLength="60" lengthAdjust="spacingAndGlyphs">−0.2000</text>
</g>
<rect x="1943.5" y="45.5" width="83" height="37" rx="5" fill="#fff" stroke="#f0f0f3" stroke-width="1.5"/>
<text x="1957" y="69" font-family="Liberation Sans, sans-serif" font-size="17" fill="#131722" stroke="#131722" stroke-width="0.35" font-weight="normal" text-anchor="start" textLength="39.5" lengthAdjust="spacingAndGlyphs">USDT</text>
<rect x="1938" y="212.3" width="72" height="26" rx="2.5" fill="#0c0c0c"/>
<text x="1951.5" y="231.60000000000002" font-family="Liberation Sans, sans-serif" font-size="17" fill="#fff" stroke="#fff" stroke-width="0" font-weight="bold" text-anchor="start" textLength="51.5" lengthAdjust="spacingAndGlyphs">3.0000</text>
<rect x="1938" y="361.5" width="72" height="26" rx="2.5" fill="#0c0c0c"/>
<text x="1951.5" y="380.8" font-family="Liberation Sans, sans-serif" font-size="17" fill="#fff" stroke="#fff" stroke-width="0" font-weight="bold" text-anchor="start" textLength="51.5" lengthAdjust="spacingAndGlyphs">2.6070</text>
<rect x="1938" y="516.5" width="72" height="26" rx="2.5" fill="#0c0c0c"/>
<text x="1951.5" y="535.8" font-family="Liberation Sans, sans-serif" font-size="17" fill="#fff" stroke="#fff" stroke-width="0" font-weight="bold" text-anchor="start" textLength="51.5" lengthAdjust="spacingAndGlyphs">2.2000</text>
<rect x="1938" y="577.5" width="72" height="26" rx="2.5" fill="#2962ff"/>
<text x="1951.5" y="596.8" font-family="Liberation Sans, sans-serif" font-size="17" fill="#fff" stroke="#fff" stroke-width="0" font-weight="bold" text-anchor="start" textLength="51.5" lengthAdjust="spacingAndGlyphs">2.0387</text>
<rect x="1938" y="620" width="88" height="46.7" rx="2.5" fill="#089981"/>
<text x="1951.5" y="640" font-family="Liberation Sans, sans-serif" font-size="17" fill="#fff" stroke="#fff" stroke-width="0.35" font-weight="normal" text-anchor="start" textLength="51.5" lengthAdjust="spacingAndGlyphs">1.9250</text>
<text x="1951.5" y="659.2" font-family="Liberation Sans, sans-serif" font-size="17" fill="rgba(255,255,255,0.75)" stroke="rgba(255,255,255,0.75)" stroke-width="0.35" font-weight="normal" text-anchor="start" textLength="67" lengthAdjust="spacingAndGlyphs">07:46:30</text>
<rect x="1938" y="668" width="72" height="25.7" rx="2.5" fill="#0c0c0c"/>
<text x="1951.5" y="687.15" font-family="Liberation Sans, sans-serif" font-size="17" fill="#fff" stroke="#fff" stroke-width="0" font-weight="bold" text-anchor="start" textLength="51.5" lengthAdjust="spacingAndGlyphs">1.8017</text>
<rect x="1938" y="853.7" width="72" height="25.7" rx="2.5" fill="#26a69a"/>
<text x="1951.5" y="872.85" font-family="Liberation Sans, sans-serif" font-size="17" fill="#fff" stroke="#fff" stroke-width="0" font-weight="bold" text-anchor="start" textLength="51.5" lengthAdjust="spacingAndGlyphs">0.0141</text>
<rect x="1938" y="879" width="81.5" height="25.5" rx="2.5" fill="#2962ff"/>
<text x="1951.5" y="898.05" font-family="Liberation Sans, sans-serif" font-size="17" fill="#fff" stroke="#fff" stroke-width="0" font-weight="bold" text-anchor="start" textLength="60" lengthAdjust="spacingAndGlyphs">−0.0468</text>
<rect x="1938" y="904" width="81.5" height="25.2" rx="2.5" fill="#ff6d00"/>
<text x="1951.5" y="922.9" font-family="Liberation Sans, sans-serif" font-size="17" fill="#fff" stroke="#fff" stroke-width="0" font-weight="bold" text-anchor="start" textLength="60" lengthAdjust="spacingAndGlyphs">−0.0609</text>
<g fill="#131313"><path d="M17.4 1005H34.8V1026.55H26.05V1013.3H17.4z"/><circle cx="42.03" cy="1009.13" r="4.27"/><path d="M50.95 1005H60.6L52.45 1026.55H42.2z"/></g>
<text x="71.2" y="1026.2" font-family="Liberation Sans, sans-serif" font-size="29" fill="#131313" stroke="#131313" stroke-width="0" font-weight="bold" text-anchor="start" textLength="175.6" lengthAdjust="spacingAndGlyphs">TradingView</text>
</svg></body></html>
